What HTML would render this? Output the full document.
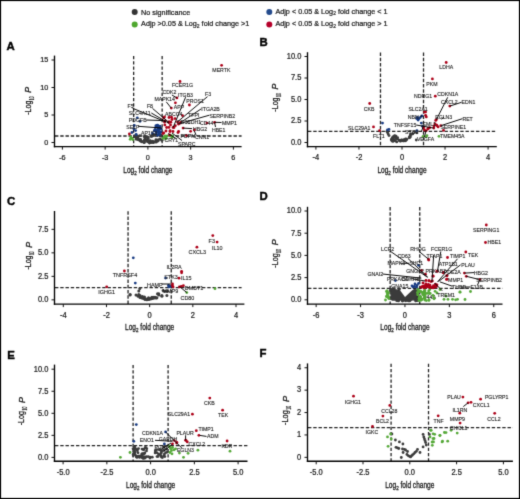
<!DOCTYPE html>
<html><head><meta charset="utf-8"><style>
html,body{margin:0;padding:0;background:#fff;}
body{width:520px;height:499px;overflow:hidden;}
svg{display:block;font-family:"Liberation Sans",sans-serif;will-change:transform;}
</style></head><body>
<svg width="520" height="499" viewBox="0 0 520 499">
<defs><filter id="sm" x="0" y="0" width="520" height="499" filterUnits="userSpaceOnUse" color-interpolation-filters="sRGB"><feConvolveMatrix order="3" kernelMatrix="1 6 1 6 36 6 1 6 1" edgeMode="duplicate"/></filter></defs>
<g filter="url(#sm)">
<rect x="0" y="0" width="520" height="499" fill="#fff"/>
<rect x="0.5" y="0.5" width="519" height="498" fill="none" stroke="#000" stroke-width="1.2"/>
<circle cx="134.7" cy="12" r="3.0" fill="#333333"/>
<text transform="translate(141.1 15) scale(1 1.08)" font-size="7.25" fill="#1a1a1a" stroke="#1a1a1a" stroke-width="0.22">No significance</text>
<circle cx="134.7" cy="24.5" r="3.0" fill="#4ea72e"/>
<text transform="translate(141.1 25.95) scale(1 1.08)" font-size="7.25" fill="#1a1a1a" stroke="#1a1a1a" stroke-width="0.22">Adjp &gt;0.05 &amp; Log<tspan font-size="5" dy="1.5">2</tspan><tspan dy="-1.5"> fold change &gt;1</tspan></text>
<circle cx="269.3" cy="12.1" r="3.0" fill="#234a8c"/>
<text transform="translate(275.4 13.8) scale(1 1.08)" font-size="7.25" fill="#1a1a1a" stroke="#1a1a1a" stroke-width="0.22">Adjp &lt; 0.05 &amp; Log<tspan font-size="5" dy="1.5">2</tspan><tspan dy="-1.5"> fold change &lt; 1</tspan></text>
<circle cx="269.3" cy="24.5" r="3.0" fill="#b5002a"/>
<text transform="translate(275.4 25.95) scale(1 1.08)" font-size="7.25" fill="#1a1a1a" stroke="#1a1a1a" stroke-width="0.22">Adjp &lt; 0.05 &amp; Log<tspan font-size="5" dy="1.5">2</tspan><tspan dy="-1.5"> fold change &gt; 1</tspan></text>
<line x1="55" y1="136" x2="241.6" y2="136" stroke="#222" stroke-width="1.3" stroke-dasharray="3.4 1.85" stroke-linecap="butt"/>
<line x1="133.65" y1="55.9" x2="133.65" y2="146.6" stroke="#222" stroke-width="1.3" stroke-dasharray="3.4 1.85" stroke-linecap="butt"/>
<line x1="162.15" y1="55.9" x2="162.15" y2="146.6" stroke="#222" stroke-width="1.3" stroke-dasharray="3.4 1.85" stroke-linecap="butt"/>
<line x1="54.5" y1="55.6" x2="54.5" y2="147.3" stroke="#000" stroke-width="1.35" stroke-linecap="butt"/>
<line x1="53.85" y1="146.6" x2="241.6" y2="146.6" stroke="#000" stroke-width="1.45" stroke-linecap="butt"/>
<line x1="51.5" y1="142.5" x2="54.5" y2="142.5" stroke="#111" stroke-width="1.0" stroke-linecap="butt"/>
<text transform="translate(48.3 144.8) scale(1 1.05)" font-size="7.3" text-anchor="end" fill="#1a1a1a" stroke="#1a1a1a" stroke-width="0.22">0</text>
<line x1="51.5" y1="115" x2="54.5" y2="115" stroke="#111" stroke-width="1.0" stroke-linecap="butt"/>
<text transform="translate(48.3 117.3) scale(1 1.05)" font-size="7.3" text-anchor="end" fill="#1a1a1a" stroke="#1a1a1a" stroke-width="0.22">5</text>
<line x1="51.5" y1="87.5" x2="54.5" y2="87.5" stroke="#111" stroke-width="1.0" stroke-linecap="butt"/>
<text transform="translate(48.3 89.8) scale(1 1.05)" font-size="7.3" text-anchor="end" fill="#1a1a1a" stroke="#1a1a1a" stroke-width="0.22">10</text>
<line x1="51.5" y1="60" x2="54.5" y2="60" stroke="#111" stroke-width="1.0" stroke-linecap="butt"/>
<text transform="translate(48.3 62.3) scale(1 1.05)" font-size="7.3" text-anchor="end" fill="#1a1a1a" stroke="#1a1a1a" stroke-width="0.22">15</text>
<line x1="62.4" y1="146.6" x2="62.4" y2="149.6" stroke="#111" stroke-width="1.0" stroke-linecap="butt"/>
<text transform="translate(62.4 160.1) scale(1 1.05)" font-size="7.3" text-anchor="middle" fill="#1a1a1a" stroke="#1a1a1a" stroke-width="0.22">-6</text>
<line x1="105.15" y1="146.6" x2="105.15" y2="149.6" stroke="#111" stroke-width="1.0" stroke-linecap="butt"/>
<text transform="translate(105.15 160.1) scale(1 1.05)" font-size="7.3" text-anchor="middle" fill="#1a1a1a" stroke="#1a1a1a" stroke-width="0.22">-3</text>
<line x1="147.9" y1="146.6" x2="147.9" y2="149.6" stroke="#111" stroke-width="1.0" stroke-linecap="butt"/>
<text transform="translate(147.9 160.1) scale(1 1.05)" font-size="7.3" text-anchor="middle" fill="#1a1a1a" stroke="#1a1a1a" stroke-width="0.22">0</text>
<line x1="190.65" y1="146.6" x2="190.65" y2="149.6" stroke="#111" stroke-width="1.0" stroke-linecap="butt"/>
<text transform="translate(190.65 160.1) scale(1 1.05)" font-size="7.3" text-anchor="middle" fill="#1a1a1a" stroke="#1a1a1a" stroke-width="0.22">3</text>
<line x1="233.4" y1="146.6" x2="233.4" y2="149.6" stroke="#111" stroke-width="1.0" stroke-linecap="butt"/>
<text transform="translate(233.4 160.1) scale(1 1.05)" font-size="7.3" text-anchor="middle" fill="#1a1a1a" stroke="#1a1a1a" stroke-width="0.22">6</text>
<text x="123.3" y="172.9" font-size="9" textLength="49.2" lengthAdjust="spacingAndGlyphs" fill="#1a1a1a" stroke="#1a1a1a" stroke-width="0.3">Log<tspan font-size="6.2" dy="2">2</tspan><tspan dy="-2"> fold change</tspan></text>
<text transform="translate(30.6 114.85) rotate(-90)" font-size="9.4" textLength="14.23" lengthAdjust="spacingAndGlyphs" fill="#1a1a1a" stroke="#1a1a1a" stroke-width="0.3">-Log</text>
<text transform="translate(33.5 100.22) rotate(-90)" font-size="6.3" textLength="3.81" lengthAdjust="spacingAndGlyphs" fill="#1a1a1a" stroke="#1a1a1a" stroke-width="0.2">10</text>
<text transform="translate(31.2 92.71) rotate(-90)" font-size="9.6" font-style="italic" textLength="5.91" lengthAdjust="spacingAndGlyphs" fill="#1a1a1a" stroke="#1a1a1a" stroke-width="0.3">P</text>
<text transform="translate(6.6 49.6) scale(1 1.02)" font-size="11.4" font-weight="bold" fill="#000" stroke="#000" stroke-width="0.4">A</text>
<line x1="308" y1="131.4" x2="496.8" y2="131.4" stroke="#222" stroke-width="1.3" stroke-dasharray="3.4 1.85" stroke-linecap="butt"/>
<line x1="380.48" y1="52.5" x2="380.48" y2="146.6" stroke="#222" stroke-width="1.3" stroke-dasharray="3.4 1.85" stroke-linecap="butt"/>
<line x1="423.52" y1="52.5" x2="423.52" y2="146.6" stroke="#222" stroke-width="1.3" stroke-dasharray="3.4 1.85" stroke-linecap="butt"/>
<line x1="307.5" y1="52.2" x2="307.5" y2="147.3" stroke="#000" stroke-width="1.35" stroke-linecap="butt"/>
<line x1="306.85" y1="146.6" x2="496.8" y2="146.6" stroke="#000" stroke-width="1.45" stroke-linecap="butt"/>
<line x1="304.5" y1="142.5" x2="307.5" y2="142.5" stroke="#111" stroke-width="1.0" stroke-linecap="butt"/>
<text transform="translate(301.3 144.8) scale(1 1.1)" font-size="7.5" text-anchor="end" fill="#1a1a1a" stroke="#1a1a1a" stroke-width="0.22">0.0</text>
<line x1="304.5" y1="121" x2="307.5" y2="121" stroke="#111" stroke-width="1.0" stroke-linecap="butt"/>
<text transform="translate(301.3 123.3) scale(1 1.1)" font-size="7.5" text-anchor="end" fill="#1a1a1a" stroke="#1a1a1a" stroke-width="0.22">2.5</text>
<line x1="304.5" y1="99.5" x2="307.5" y2="99.5" stroke="#111" stroke-width="1.0" stroke-linecap="butt"/>
<text transform="translate(301.3 101.8) scale(1 1.1)" font-size="7.5" text-anchor="end" fill="#1a1a1a" stroke="#1a1a1a" stroke-width="0.22">5.0</text>
<line x1="304.5" y1="78" x2="307.5" y2="78" stroke="#111" stroke-width="1.0" stroke-linecap="butt"/>
<text transform="translate(301.3 80.3) scale(1 1.1)" font-size="7.5" text-anchor="end" fill="#1a1a1a" stroke="#1a1a1a" stroke-width="0.22">7.5</text>
<line x1="304.5" y1="56.5" x2="307.5" y2="56.5" stroke="#111" stroke-width="1.0" stroke-linecap="butt"/>
<text transform="translate(301.3 58.8) scale(1 1.1)" font-size="7.5" text-anchor="end" fill="#1a1a1a" stroke="#1a1a1a" stroke-width="0.22">10.0</text>
<line x1="315.92" y1="146.6" x2="315.92" y2="149.6" stroke="#111" stroke-width="1.0" stroke-linecap="butt"/>
<text transform="translate(315.92 160.1) scale(1 1.1)" font-size="7.5" text-anchor="middle" fill="#1a1a1a" stroke="#1a1a1a" stroke-width="0.22">-4</text>
<line x1="358.96" y1="146.6" x2="358.96" y2="149.6" stroke="#111" stroke-width="1.0" stroke-linecap="butt"/>
<text transform="translate(358.96 160.1) scale(1 1.1)" font-size="7.5" text-anchor="middle" fill="#1a1a1a" stroke="#1a1a1a" stroke-width="0.22">-2</text>
<line x1="402" y1="146.6" x2="402" y2="149.6" stroke="#111" stroke-width="1.0" stroke-linecap="butt"/>
<text transform="translate(402 160.1) scale(1 1.1)" font-size="7.5" text-anchor="middle" fill="#1a1a1a" stroke="#1a1a1a" stroke-width="0.22">0</text>
<line x1="445.04" y1="146.6" x2="445.04" y2="149.6" stroke="#111" stroke-width="1.0" stroke-linecap="butt"/>
<text transform="translate(445.04 160.1) scale(1 1.1)" font-size="7.5" text-anchor="middle" fill="#1a1a1a" stroke="#1a1a1a" stroke-width="0.22">2</text>
<line x1="488.08" y1="146.6" x2="488.08" y2="149.6" stroke="#111" stroke-width="1.0" stroke-linecap="butt"/>
<text transform="translate(488.08 160.1) scale(1 1.1)" font-size="7.5" text-anchor="middle" fill="#1a1a1a" stroke="#1a1a1a" stroke-width="0.22">4</text>
<text x="377.4" y="172.9" font-size="9" textLength="49.2" lengthAdjust="spacingAndGlyphs" fill="#1a1a1a" stroke="#1a1a1a" stroke-width="0.3">Log<tspan font-size="6.2" dy="2">2</tspan><tspan dy="-2"> fold change</tspan></text>
<text transform="translate(277.6 111.65) rotate(-90)" font-size="9.4" textLength="14.23" lengthAdjust="spacingAndGlyphs" fill="#1a1a1a" stroke="#1a1a1a" stroke-width="0.3">-Log</text>
<text transform="translate(280.5 97.02) rotate(-90)" font-size="6.3" textLength="3.81" lengthAdjust="spacingAndGlyphs" fill="#1a1a1a" stroke="#1a1a1a" stroke-width="0.2">10</text>
<text transform="translate(278.2 89.51) rotate(-90)" font-size="9.6" font-style="italic" textLength="5.91" lengthAdjust="spacingAndGlyphs" fill="#1a1a1a" stroke="#1a1a1a" stroke-width="0.3">P</text>
<text transform="translate(259.4 46.3) scale(1 1.02)" font-size="11.4" font-weight="bold" fill="#000" stroke="#000" stroke-width="0.4">B</text>
<line x1="55" y1="287.7" x2="241.6" y2="287.7" stroke="#222" stroke-width="1.3" stroke-dasharray="3.4 1.85" stroke-linecap="butt"/>
<line x1="128.06" y1="211.3" x2="128.06" y2="304.1" stroke="#222" stroke-width="1.3" stroke-dasharray="3.4 1.85" stroke-linecap="butt"/>
<line x1="171.24" y1="211.3" x2="171.24" y2="304.1" stroke="#222" stroke-width="1.3" stroke-dasharray="3.4 1.85" stroke-linecap="butt"/>
<line x1="54.5" y1="211" x2="54.5" y2="304.8" stroke="#000" stroke-width="1.35" stroke-linecap="butt"/>
<line x1="53.85" y1="304.1" x2="244.4" y2="304.1" stroke="#000" stroke-width="1.45" stroke-linecap="butt"/>
<line x1="51.5" y1="299.85" x2="54.5" y2="299.85" stroke="#111" stroke-width="1.0" stroke-linecap="butt"/>
<text transform="translate(48.3 302.15) scale(1 1.1)" font-size="7.5" text-anchor="end" fill="#1a1a1a" stroke="#1a1a1a" stroke-width="0.22">0.0</text>
<line x1="51.5" y1="276.35" x2="54.5" y2="276.35" stroke="#111" stroke-width="1.0" stroke-linecap="butt"/>
<text transform="translate(48.3 278.65) scale(1 1.1)" font-size="7.5" text-anchor="end" fill="#1a1a1a" stroke="#1a1a1a" stroke-width="0.22">2.5</text>
<line x1="51.5" y1="252.85" x2="54.5" y2="252.85" stroke="#111" stroke-width="1.0" stroke-linecap="butt"/>
<text transform="translate(48.3 255.15) scale(1 1.1)" font-size="7.5" text-anchor="end" fill="#1a1a1a" stroke="#1a1a1a" stroke-width="0.22">5.0</text>
<line x1="51.5" y1="229.35" x2="54.5" y2="229.35" stroke="#111" stroke-width="1.0" stroke-linecap="butt"/>
<text transform="translate(48.3 231.65) scale(1 1.1)" font-size="7.5" text-anchor="end" fill="#1a1a1a" stroke="#1a1a1a" stroke-width="0.22">7.5</text>
<line x1="63.29" y1="304.1" x2="63.29" y2="307.1" stroke="#111" stroke-width="1.0" stroke-linecap="butt"/>
<text transform="translate(63.29 317.6) scale(1 1.1)" font-size="7.5" text-anchor="middle" fill="#1a1a1a" stroke="#1a1a1a" stroke-width="0.22">-4</text>
<line x1="106.47" y1="304.1" x2="106.47" y2="307.1" stroke="#111" stroke-width="1.0" stroke-linecap="butt"/>
<text transform="translate(106.47 317.6) scale(1 1.1)" font-size="7.5" text-anchor="middle" fill="#1a1a1a" stroke="#1a1a1a" stroke-width="0.22">-2</text>
<line x1="149.65" y1="304.1" x2="149.65" y2="307.1" stroke="#111" stroke-width="1.0" stroke-linecap="butt"/>
<text transform="translate(149.65 317.6) scale(1 1.1)" font-size="7.5" text-anchor="middle" fill="#1a1a1a" stroke="#1a1a1a" stroke-width="0.22">0</text>
<line x1="192.83" y1="304.1" x2="192.83" y2="307.1" stroke="#111" stroke-width="1.0" stroke-linecap="butt"/>
<text transform="translate(192.83 317.6) scale(1 1.1)" font-size="7.5" text-anchor="middle" fill="#1a1a1a" stroke="#1a1a1a" stroke-width="0.22">2</text>
<line x1="236.01" y1="304.1" x2="236.01" y2="307.1" stroke="#111" stroke-width="1.0" stroke-linecap="butt"/>
<text transform="translate(236.01 317.6) scale(1 1.1)" font-size="7.5" text-anchor="middle" fill="#1a1a1a" stroke="#1a1a1a" stroke-width="0.22">4</text>
<text x="125.05" y="330.4" font-size="9" textLength="49.2" lengthAdjust="spacingAndGlyphs" fill="#1a1a1a" stroke="#1a1a1a" stroke-width="0.3">Log<tspan font-size="6.2" dy="2">2</tspan><tspan dy="-2"> fold change</tspan></text>
<text transform="translate(31 269.6) rotate(-90)" font-size="9.4" textLength="14.1" lengthAdjust="spacingAndGlyphs" fill="#1a1a1a" stroke="#1a1a1a" stroke-width="0.3">-Log</text>
<text transform="translate(33.9 255.1) rotate(-90)" font-size="6.3" textLength="3.77" lengthAdjust="spacingAndGlyphs" fill="#1a1a1a" stroke="#1a1a1a" stroke-width="0.2">10</text>
<text transform="translate(31.6 247.66) rotate(-90)" font-size="9.6" font-style="italic" textLength="5.86" lengthAdjust="spacingAndGlyphs" fill="#1a1a1a" stroke="#1a1a1a" stroke-width="0.3">P</text>
<text transform="translate(6.9 204.5) scale(1 1.02)" font-size="11.4" font-weight="bold" fill="#000" stroke="#000" stroke-width="0.4">C</text>
<line x1="308" y1="288.3" x2="502.5" y2="288.3" stroke="#222" stroke-width="1.3" stroke-dasharray="3.4 1.85" stroke-linecap="butt"/>
<line x1="390.15" y1="207.1" x2="390.15" y2="304.1" stroke="#222" stroke-width="1.3" stroke-dasharray="3.4 1.85" stroke-linecap="butt"/>
<line x1="419.75" y1="207.1" x2="419.75" y2="304.1" stroke="#222" stroke-width="1.3" stroke-dasharray="3.4 1.85" stroke-linecap="butt"/>
<line x1="307.5" y1="206.8" x2="307.5" y2="304.8" stroke="#000" stroke-width="1.35" stroke-linecap="butt"/>
<line x1="306.85" y1="304.1" x2="502.5" y2="304.1" stroke="#000" stroke-width="1.45" stroke-linecap="butt"/>
<line x1="304.5" y1="299.8" x2="307.5" y2="299.8" stroke="#111" stroke-width="1.0" stroke-linecap="butt"/>
<text transform="translate(301.3 302.1) scale(1 1.1)" font-size="7.5" text-anchor="end" fill="#1a1a1a" stroke="#1a1a1a" stroke-width="0.22">0.0</text>
<line x1="304.5" y1="277.6" x2="307.5" y2="277.6" stroke="#111" stroke-width="1.0" stroke-linecap="butt"/>
<text transform="translate(301.3 279.9) scale(1 1.1)" font-size="7.5" text-anchor="end" fill="#1a1a1a" stroke="#1a1a1a" stroke-width="0.22">2.5</text>
<line x1="304.5" y1="255.4" x2="307.5" y2="255.4" stroke="#111" stroke-width="1.0" stroke-linecap="butt"/>
<text transform="translate(301.3 257.7) scale(1 1.1)" font-size="7.5" text-anchor="end" fill="#1a1a1a" stroke="#1a1a1a" stroke-width="0.22">5.0</text>
<line x1="304.5" y1="233.2" x2="307.5" y2="233.2" stroke="#111" stroke-width="1.0" stroke-linecap="butt"/>
<text transform="translate(301.3 235.5) scale(1 1.1)" font-size="7.5" text-anchor="end" fill="#1a1a1a" stroke="#1a1a1a" stroke-width="0.22">7.5</text>
<line x1="304.5" y1="211" x2="307.5" y2="211" stroke="#111" stroke-width="1.0" stroke-linecap="butt"/>
<text transform="translate(301.3 213.3) scale(1 1.1)" font-size="7.5" text-anchor="end" fill="#1a1a1a" stroke="#1a1a1a" stroke-width="0.22">10.0</text>
<line x1="316.15" y1="304.1" x2="316.15" y2="307.1" stroke="#111" stroke-width="1.0" stroke-linecap="butt"/>
<text transform="translate(316.15 317.6) scale(1 1.1)" font-size="7.5" text-anchor="middle" fill="#1a1a1a" stroke="#1a1a1a" stroke-width="0.22">-6</text>
<line x1="360.55" y1="304.1" x2="360.55" y2="307.1" stroke="#111" stroke-width="1.0" stroke-linecap="butt"/>
<text transform="translate(360.55 317.6) scale(1 1.1)" font-size="7.5" text-anchor="middle" fill="#1a1a1a" stroke="#1a1a1a" stroke-width="0.22">-3</text>
<line x1="404.95" y1="304.1" x2="404.95" y2="307.1" stroke="#111" stroke-width="1.0" stroke-linecap="butt"/>
<text transform="translate(404.95 317.6) scale(1 1.1)" font-size="7.5" text-anchor="middle" fill="#1a1a1a" stroke="#1a1a1a" stroke-width="0.22">0</text>
<line x1="449.35" y1="304.1" x2="449.35" y2="307.1" stroke="#111" stroke-width="1.0" stroke-linecap="butt"/>
<text transform="translate(449.35 317.6) scale(1 1.1)" font-size="7.5" text-anchor="middle" fill="#1a1a1a" stroke="#1a1a1a" stroke-width="0.22">3</text>
<line x1="493.75" y1="304.1" x2="493.75" y2="307.1" stroke="#111" stroke-width="1.0" stroke-linecap="butt"/>
<text transform="translate(493.75 317.6) scale(1 1.1)" font-size="7.5" text-anchor="middle" fill="#1a1a1a" stroke="#1a1a1a" stroke-width="0.22">6</text>
<text x="380.35" y="330.4" font-size="9" textLength="49.2" lengthAdjust="spacingAndGlyphs" fill="#1a1a1a" stroke="#1a1a1a" stroke-width="0.3">Log<tspan font-size="6.2" dy="2">2</tspan><tspan dy="-2"> fold change</tspan></text>
<text transform="translate(277.6 267.7) rotate(-90)" font-size="9.4" textLength="14.35" lengthAdjust="spacingAndGlyphs" fill="#1a1a1a" stroke="#1a1a1a" stroke-width="0.3">-Log</text>
<text transform="translate(280.5 252.94) rotate(-90)" font-size="6.3" textLength="3.84" lengthAdjust="spacingAndGlyphs" fill="#1a1a1a" stroke="#1a1a1a" stroke-width="0.2">10</text>
<text transform="translate(278.2 245.36) rotate(-90)" font-size="9.6" font-style="italic" textLength="5.96" lengthAdjust="spacingAndGlyphs" fill="#1a1a1a" stroke="#1a1a1a" stroke-width="0.3">P</text>
<text transform="translate(259.4 200.3) scale(1 1.02)" font-size="11.4" font-weight="bold" fill="#000" stroke="#000" stroke-width="0.4">D</text>
<line x1="55" y1="445.7" x2="247.5" y2="445.7" stroke="#222" stroke-width="1.3" stroke-dasharray="3.4 1.85" stroke-linecap="butt"/>
<line x1="133.1" y1="364.9" x2="133.1" y2="461.3" stroke="#222" stroke-width="1.3" stroke-dasharray="3.4 1.85" stroke-linecap="butt"/>
<line x1="168.1" y1="364.9" x2="168.1" y2="461.3" stroke="#222" stroke-width="1.3" stroke-dasharray="3.4 1.85" stroke-linecap="butt"/>
<line x1="54.5" y1="364.6" x2="54.5" y2="462" stroke="#000" stroke-width="1.35" stroke-linecap="butt"/>
<line x1="53.85" y1="461.3" x2="247.5" y2="461.3" stroke="#000" stroke-width="1.45" stroke-linecap="butt"/>
<line x1="51.5" y1="457.4" x2="54.5" y2="457.4" stroke="#111" stroke-width="1.0" stroke-linecap="butt"/>
<text transform="translate(48.3 459.7) scale(1 1.1)" font-size="7.5" text-anchor="end" fill="#1a1a1a" stroke="#1a1a1a" stroke-width="0.22">0.0</text>
<line x1="51.5" y1="435.35" x2="54.5" y2="435.35" stroke="#111" stroke-width="1.0" stroke-linecap="butt"/>
<text transform="translate(48.3 437.65) scale(1 1.1)" font-size="7.5" text-anchor="end" fill="#1a1a1a" stroke="#1a1a1a" stroke-width="0.22">2.5</text>
<line x1="51.5" y1="413.3" x2="54.5" y2="413.3" stroke="#111" stroke-width="1.0" stroke-linecap="butt"/>
<text transform="translate(48.3 415.6) scale(1 1.1)" font-size="7.5" text-anchor="end" fill="#1a1a1a" stroke="#1a1a1a" stroke-width="0.22">5.0</text>
<line x1="51.5" y1="391.25" x2="54.5" y2="391.25" stroke="#111" stroke-width="1.0" stroke-linecap="butt"/>
<text transform="translate(48.3 393.55) scale(1 1.1)" font-size="7.5" text-anchor="end" fill="#1a1a1a" stroke="#1a1a1a" stroke-width="0.22">7.5</text>
<line x1="51.5" y1="369.2" x2="54.5" y2="369.2" stroke="#111" stroke-width="1.0" stroke-linecap="butt"/>
<text transform="translate(48.3 371.5) scale(1 1.1)" font-size="7.5" text-anchor="end" fill="#1a1a1a" stroke="#1a1a1a" stroke-width="0.22">10.0</text>
<line x1="63.1" y1="461.3" x2="63.1" y2="464.3" stroke="#111" stroke-width="1.0" stroke-linecap="butt"/>
<text transform="translate(63.1 474.8) scale(1 1.1)" font-size="7.5" text-anchor="middle" fill="#1a1a1a" stroke="#1a1a1a" stroke-width="0.22">-5.0</text>
<line x1="106.85" y1="461.3" x2="106.85" y2="464.3" stroke="#111" stroke-width="1.0" stroke-linecap="butt"/>
<text transform="translate(106.85 474.8) scale(1 1.1)" font-size="7.5" text-anchor="middle" fill="#1a1a1a" stroke="#1a1a1a" stroke-width="0.22">-2.5</text>
<line x1="150.6" y1="461.3" x2="150.6" y2="464.3" stroke="#111" stroke-width="1.0" stroke-linecap="butt"/>
<text transform="translate(150.6 474.8) scale(1 1.1)" font-size="7.5" text-anchor="middle" fill="#1a1a1a" stroke="#1a1a1a" stroke-width="0.22">0.0</text>
<line x1="194.35" y1="461.3" x2="194.35" y2="464.3" stroke="#111" stroke-width="1.0" stroke-linecap="butt"/>
<text transform="translate(194.35 474.8) scale(1 1.1)" font-size="7.5" text-anchor="middle" fill="#1a1a1a" stroke="#1a1a1a" stroke-width="0.22">2.5</text>
<line x1="238.1" y1="461.3" x2="238.1" y2="464.3" stroke="#111" stroke-width="1.0" stroke-linecap="butt"/>
<text transform="translate(238.1 474.8) scale(1 1.1)" font-size="7.5" text-anchor="middle" fill="#1a1a1a" stroke="#1a1a1a" stroke-width="0.22">5.0</text>
<text x="126" y="487.6" font-size="9" textLength="49.2" lengthAdjust="spacingAndGlyphs" fill="#1a1a1a" stroke="#1a1a1a" stroke-width="0.3">Log<tspan font-size="6.2" dy="2">2</tspan><tspan dy="-2"> fold change</tspan></text>
<text transform="translate(24 425.3) rotate(-90)" font-size="9.4" textLength="14.35" lengthAdjust="spacingAndGlyphs" fill="#1a1a1a" stroke="#1a1a1a" stroke-width="0.3">-Log</text>
<text transform="translate(26.9 410.54) rotate(-90)" font-size="6.3" textLength="3.84" lengthAdjust="spacingAndGlyphs" fill="#1a1a1a" stroke="#1a1a1a" stroke-width="0.2">10</text>
<text transform="translate(24.6 402.96) rotate(-90)" font-size="9.6" font-style="italic" textLength="5.96" lengthAdjust="spacingAndGlyphs" fill="#1a1a1a" stroke="#1a1a1a" stroke-width="0.3">P</text>
<text transform="translate(7.3 358.6) scale(1 1.02)" font-size="11.4" font-weight="bold" fill="#000" stroke="#000" stroke-width="0.4">E</text>
<line x1="308" y1="427.7" x2="512.9" y2="427.7" stroke="#222" stroke-width="1.3" stroke-dasharray="3.4 1.85" stroke-linecap="butt"/>
<line x1="391.08" y1="363.7" x2="391.08" y2="461.3" stroke="#222" stroke-width="1.3" stroke-dasharray="3.4 1.85" stroke-linecap="butt"/>
<line x1="428.52" y1="363.7" x2="428.52" y2="461.3" stroke="#222" stroke-width="1.3" stroke-dasharray="3.4 1.85" stroke-linecap="butt"/>
<line x1="307.5" y1="363.4" x2="307.5" y2="462" stroke="#000" stroke-width="1.35" stroke-linecap="butt"/>
<line x1="306.85" y1="461.3" x2="512.9" y2="461.3" stroke="#000" stroke-width="1.45" stroke-linecap="butt"/>
<line x1="304.5" y1="457.35" x2="307.5" y2="457.35" stroke="#111" stroke-width="1.0" stroke-linecap="butt"/>
<text transform="translate(301.3 459.65) scale(1 1.1)" font-size="7.5" text-anchor="end" fill="#1a1a1a" stroke="#1a1a1a" stroke-width="0.22">0</text>
<line x1="304.5" y1="434.95" x2="307.5" y2="434.95" stroke="#111" stroke-width="1.0" stroke-linecap="butt"/>
<text transform="translate(301.3 437.25) scale(1 1.1)" font-size="7.5" text-anchor="end" fill="#1a1a1a" stroke="#1a1a1a" stroke-width="0.22">1</text>
<line x1="304.5" y1="412.55" x2="307.5" y2="412.55" stroke="#111" stroke-width="1.0" stroke-linecap="butt"/>
<text transform="translate(301.3 414.85) scale(1 1.1)" font-size="7.5" text-anchor="end" fill="#1a1a1a" stroke="#1a1a1a" stroke-width="0.22">2</text>
<line x1="304.5" y1="390.15" x2="307.5" y2="390.15" stroke="#111" stroke-width="1.0" stroke-linecap="butt"/>
<text transform="translate(301.3 392.45) scale(1 1.1)" font-size="7.5" text-anchor="end" fill="#1a1a1a" stroke="#1a1a1a" stroke-width="0.22">3</text>
<line x1="304.5" y1="367.75" x2="307.5" y2="367.75" stroke="#111" stroke-width="1.0" stroke-linecap="butt"/>
<text transform="translate(301.3 370.05) scale(1 1.1)" font-size="7.5" text-anchor="end" fill="#1a1a1a" stroke="#1a1a1a" stroke-width="0.22">4</text>
<line x1="316.2" y1="461.3" x2="316.2" y2="464.3" stroke="#111" stroke-width="1.0" stroke-linecap="butt"/>
<text transform="translate(316.2 474.8) scale(1 1.1)" font-size="7.5" text-anchor="middle" fill="#1a1a1a" stroke="#1a1a1a" stroke-width="0.22">-5.0</text>
<line x1="363" y1="461.3" x2="363" y2="464.3" stroke="#111" stroke-width="1.0" stroke-linecap="butt"/>
<text transform="translate(363 474.8) scale(1 1.1)" font-size="7.5" text-anchor="middle" fill="#1a1a1a" stroke="#1a1a1a" stroke-width="0.22">-2.5</text>
<line x1="409.8" y1="461.3" x2="409.8" y2="464.3" stroke="#111" stroke-width="1.0" stroke-linecap="butt"/>
<text transform="translate(409.8 474.8) scale(1 1.1)" font-size="7.5" text-anchor="middle" fill="#1a1a1a" stroke="#1a1a1a" stroke-width="0.22">0.0</text>
<line x1="456.6" y1="461.3" x2="456.6" y2="464.3" stroke="#111" stroke-width="1.0" stroke-linecap="butt"/>
<text transform="translate(456.6 474.8) scale(1 1.1)" font-size="7.5" text-anchor="middle" fill="#1a1a1a" stroke="#1a1a1a" stroke-width="0.22">2.5</text>
<line x1="503.4" y1="461.3" x2="503.4" y2="464.3" stroke="#111" stroke-width="1.0" stroke-linecap="butt"/>
<text transform="translate(503.4 474.8) scale(1 1.1)" font-size="7.5" text-anchor="middle" fill="#1a1a1a" stroke="#1a1a1a" stroke-width="0.22">5.0</text>
<text x="385.2" y="487.6" font-size="9" textLength="49.2" lengthAdjust="spacingAndGlyphs" fill="#1a1a1a" stroke="#1a1a1a" stroke-width="0.3">Log<tspan font-size="6.2" dy="2">2</tspan><tspan dy="-2"> fold change</tspan></text>
<text transform="translate(288.2 424.9) rotate(-90)" font-size="9.4" textLength="14.66" lengthAdjust="spacingAndGlyphs" fill="#1a1a1a" stroke="#1a1a1a" stroke-width="0.3">-Log</text>
<text transform="translate(291.1 409.83) rotate(-90)" font-size="6.3" textLength="3.92" lengthAdjust="spacingAndGlyphs" fill="#1a1a1a" stroke="#1a1a1a" stroke-width="0.2">10</text>
<text transform="translate(288.8 402.09) rotate(-90)" font-size="9.6" font-style="italic" textLength="6.09" lengthAdjust="spacingAndGlyphs" fill="#1a1a1a" stroke="#1a1a1a" stroke-width="0.3">P</text>
<text transform="translate(259.4 357.1) scale(1 1.02)" font-size="11.4" font-weight="bold" fill="#000" stroke="#000" stroke-width="0.4">F</text>
<circle cx="141.6" cy="141.47" r="1.4" fill="#3b3b3b"/>
<circle cx="136.28" cy="137.36" r="1.4" fill="#3b3b3b"/>
<circle cx="135.87" cy="136.26" r="1.4" fill="#3b3b3b"/>
<circle cx="144.48" cy="140.42" r="1.4" fill="#3b3b3b"/>
<circle cx="146.18" cy="140.49" r="1.4" fill="#3b3b3b"/>
<circle cx="140.23" cy="141.04" r="1.4" fill="#3b3b3b"/>
<circle cx="149.42" cy="143.02" r="1.4" fill="#3b3b3b"/>
<circle cx="136.52" cy="136.73" r="1.4" fill="#3b3b3b"/>
<circle cx="136.86" cy="138.4" r="1.4" fill="#3b3b3b"/>
<circle cx="155.64" cy="141.27" r="1.4" fill="#3b3b3b"/>
<circle cx="151.12" cy="141.78" r="1.4" fill="#3b3b3b"/>
<circle cx="134.82" cy="136.78" r="1.4" fill="#3b3b3b"/>
<circle cx="152.44" cy="141.05" r="1.4" fill="#3b3b3b"/>
<circle cx="149.81" cy="141.27" r="1.4" fill="#3b3b3b"/>
<circle cx="156.39" cy="140.55" r="1.4" fill="#3b3b3b"/>
<circle cx="149.68" cy="142.75" r="1.4" fill="#3b3b3b"/>
<circle cx="153.47" cy="142.65" r="1.4" fill="#3b3b3b"/>
<circle cx="137.04" cy="139.13" r="1.4" fill="#3b3b3b"/>
<circle cx="138.01" cy="137.82" r="1.4" fill="#3b3b3b"/>
<circle cx="152.97" cy="141.76" r="1.4" fill="#3b3b3b"/>
<circle cx="157.61" cy="141.06" r="1.4" fill="#3b3b3b"/>
<circle cx="150.39" cy="141.67" r="1.4" fill="#3b3b3b"/>
<circle cx="158.28" cy="140.78" r="1.4" fill="#3b3b3b"/>
<circle cx="151.03" cy="142.11" r="1.4" fill="#3b3b3b"/>
<circle cx="152.96" cy="142.47" r="1.4" fill="#3b3b3b"/>
<circle cx="141.19" cy="141.04" r="1.4" fill="#3b3b3b"/>
<circle cx="134.93" cy="136.01" r="1.4" fill="#3b3b3b"/>
<circle cx="136.08" cy="139.14" r="1.4" fill="#3b3b3b"/>
<circle cx="136.85" cy="138.37" r="1.4" fill="#3b3b3b"/>
<circle cx="156.9" cy="140.45" r="1.4" fill="#3b3b3b"/>
<circle cx="149.9" cy="142.55" r="1.4" fill="#3b3b3b"/>
<circle cx="157.21" cy="140.43" r="1.4" fill="#3b3b3b"/>
<circle cx="144.46" cy="142.52" r="1.4" fill="#3b3b3b"/>
<circle cx="137.17" cy="138.31" r="1.4" fill="#3b3b3b"/>
<circle cx="140.12" cy="140.22" r="1.4" fill="#3b3b3b"/>
<circle cx="139.63" cy="140.13" r="1.4" fill="#3b3b3b"/>
<circle cx="143.93" cy="142.53" r="1.4" fill="#3b3b3b"/>
<circle cx="152.96" cy="141.81" r="1.4" fill="#3b3b3b"/>
<circle cx="151.35" cy="142.59" r="1.4" fill="#3b3b3b"/>
<circle cx="156.44" cy="142.03" r="1.4" fill="#3b3b3b"/>
<circle cx="144.15" cy="140.37" r="1.4" fill="#3b3b3b"/>
<circle cx="150.18" cy="140.54" r="1.4" fill="#3b3b3b"/>
<circle cx="138.64" cy="139.28" r="1.4" fill="#3b3b3b"/>
<circle cx="134.42" cy="136.47" r="1.4" fill="#3b3b3b"/>
<circle cx="136.51" cy="136.95" r="1.4" fill="#3b3b3b"/>
<circle cx="158.36" cy="139.65" r="1.4" fill="#3b3b3b"/>
<circle cx="140.25" cy="139.87" r="1.4" fill="#3b3b3b"/>
<circle cx="138.27" cy="139.82" r="1.4" fill="#3b3b3b"/>
<circle cx="146.48" cy="140.47" r="1.4" fill="#3b3b3b"/>
<circle cx="136.47" cy="137.59" r="1.4" fill="#3b3b3b"/>
<circle cx="155.94" cy="139.71" r="1.4" fill="#3b3b3b"/>
<circle cx="160.23" cy="139" r="1.4" fill="#3b3b3b"/>
<circle cx="147.49" cy="141.78" r="1.4" fill="#3b3b3b"/>
<circle cx="161.86" cy="140.19" r="1.4" fill="#3b3b3b"/>
<circle cx="140.53" cy="139.46" r="1.4" fill="#3b3b3b"/>
<circle cx="155.32" cy="142" r="1.4" fill="#3b3b3b"/>
<circle cx="141.94" cy="141.95" r="1.4" fill="#3b3b3b"/>
<circle cx="162" cy="140.42" r="1.4" fill="#3b3b3b"/>
<circle cx="157.16" cy="140.32" r="1.4" fill="#3b3b3b"/>
<circle cx="147.62" cy="140.43" r="1.4" fill="#3b3b3b"/>
<circle cx="135.9" cy="135.07" r="1.4" fill="#3b3b3b"/>
<circle cx="145.25" cy="136.98" r="1.4" fill="#3b3b3b"/>
<circle cx="148.23" cy="138.72" r="1.4" fill="#3b3b3b"/>
<circle cx="139.85" cy="135.69" r="1.4" fill="#3b3b3b"/>
<circle cx="137.79" cy="136.14" r="1.4" fill="#3b3b3b"/>
<circle cx="147.49" cy="137.66" r="1.4" fill="#3b3b3b"/>
<circle cx="144.47" cy="136.14" r="1.4" fill="#3b3b3b"/>
<circle cx="144.78" cy="137.55" r="1.4" fill="#3b3b3b"/>
<circle cx="144.98" cy="136.61" r="1.4" fill="#3b3b3b"/>
<circle cx="145.16" cy="137.97" r="1.4" fill="#3b3b3b"/>
<circle cx="147.45" cy="137.72" r="1.4" fill="#3b3b3b"/>
<circle cx="147.82" cy="137.18" r="1.4" fill="#3b3b3b"/>
<circle cx="136.84" cy="136.57" r="1.4" fill="#3b3b3b"/>
<circle cx="144.99" cy="138.08" r="1.4" fill="#3b3b3b"/>
<circle cx="148.08" cy="137.64" r="1.4" fill="#3b3b3b"/>
<circle cx="155.3" cy="134.52" r="1.4" fill="#3b3b3b"/>
<circle cx="160.98" cy="135.09" r="1.4" fill="#3b3b3b"/>
<circle cx="160.14" cy="135.82" r="1.4" fill="#3b3b3b"/>
<circle cx="158.51" cy="134.69" r="1.4" fill="#3b3b3b"/>
<circle cx="152.71" cy="135.9" r="1.4" fill="#3b3b3b"/>
<circle cx="152.69" cy="135.02" r="1.4" fill="#3b3b3b"/>
<circle cx="159.72" cy="135.02" r="1.4" fill="#3b3b3b"/>
<circle cx="157.23" cy="135.3" r="1.4" fill="#3b3b3b"/>
<circle cx="160.1" cy="135.15" r="1.4" fill="#3b3b3b"/>
<circle cx="154.8" cy="135.4" r="1.4" fill="#3b3b3b"/>
<circle cx="151.02" cy="136.43" r="1.4" fill="#3b3b3b"/>
<circle cx="151.84" cy="136.29" r="1.4" fill="#3b3b3b"/>
<circle cx="158.21" cy="128.39" r="1.4" fill="#173a82"/>
<circle cx="157.93" cy="130.78" r="1.4" fill="#173a82"/>
<circle cx="159.85" cy="126.1" r="1.4" fill="#173a82"/>
<circle cx="158.23" cy="127.58" r="1.4" fill="#173a82"/>
<circle cx="156.19" cy="133.03" r="1.4" fill="#173a82"/>
<circle cx="157.86" cy="130.84" r="1.4" fill="#173a82"/>
<circle cx="159.67" cy="134.49" r="1.4" fill="#173a82"/>
<circle cx="157.39" cy="131.37" r="1.4" fill="#173a82"/>
<circle cx="157.84" cy="130.33" r="1.4" fill="#173a82"/>
<circle cx="159.19" cy="129.7" r="1.4" fill="#173a82"/>
<circle cx="158.04" cy="129.97" r="1.4" fill="#173a82"/>
<circle cx="160.98" cy="132.27" r="1.4" fill="#173a82"/>
<circle cx="156.07" cy="130.82" r="1.4" fill="#173a82"/>
<circle cx="157.38" cy="125.75" r="1.4" fill="#173a82"/>
<circle cx="155.93" cy="125.76" r="1.4" fill="#173a82"/>
<circle cx="159.02" cy="133.15" r="1.4" fill="#173a82"/>
<circle cx="159.36" cy="131.87" r="1.4" fill="#173a82"/>
<circle cx="161.06" cy="129.14" r="1.4" fill="#173a82"/>
<circle cx="157.71" cy="135.29" r="1.4" fill="#173a82"/>
<circle cx="160.19" cy="126.68" r="1.4" fill="#173a82"/>
<circle cx="157.31" cy="130.36" r="1.4" fill="#173a82"/>
<circle cx="156.64" cy="127.04" r="1.4" fill="#173a82"/>
<circle cx="156.49" cy="132.51" r="1.4" fill="#173a82"/>
<circle cx="154.34" cy="130.76" r="1.4" fill="#173a82"/>
<circle cx="157.37" cy="125.19" r="1.4" fill="#173a82"/>
<circle cx="156.59" cy="131.49" r="1.4" fill="#173a82"/>
<circle cx="157.89" cy="125.67" r="1.4" fill="#173a82"/>
<circle cx="159.81" cy="127.81" r="1.4" fill="#173a82"/>
<circle cx="155.13" cy="129.39" r="1.4" fill="#173a82"/>
<circle cx="156.06" cy="126.55" r="1.4" fill="#173a82"/>
<circle cx="137.3" cy="117.8" r="1.4" fill="#173a82"/>
<circle cx="140" cy="121.3" r="1.4" fill="#173a82"/>
<circle cx="135.6" cy="130.6" r="1.4" fill="#173a82"/>
<circle cx="133.8" cy="128.8" r="1.4" fill="#173a82"/>
<circle cx="131.9" cy="132.5" r="1.4" fill="#173a82"/>
<circle cx="134.3" cy="125.5" r="1.4" fill="#173a82"/>
<circle cx="136.2" cy="134.5" r="1.4" fill="#173a82"/>
<circle cx="152.5" cy="133.5" r="1.4" fill="#173a82"/>
<circle cx="130.6" cy="136.8" r="1.4" fill="#55a838"/>
<circle cx="131.8" cy="138.2" r="1.4" fill="#55a838"/>
<circle cx="132.8" cy="139.6" r="1.4" fill="#55a838"/>
<circle cx="130.2" cy="139.3" r="1.4" fill="#55a838"/>
<circle cx="170.2" cy="135.88" r="1.4" fill="#55a838"/>
<circle cx="163.13" cy="138.46" r="1.4" fill="#55a838"/>
<circle cx="167.18" cy="135.81" r="1.4" fill="#55a838"/>
<circle cx="171.32" cy="135.86" r="1.4" fill="#55a838"/>
<circle cx="171.92" cy="135.79" r="1.4" fill="#55a838"/>
<circle cx="171.99" cy="137.45" r="1.4" fill="#55a838"/>
<circle cx="166.23" cy="137.88" r="1.4" fill="#55a838"/>
<circle cx="172.69" cy="136.65" r="1.4" fill="#55a838"/>
<circle cx="163.92" cy="137.77" r="1.4" fill="#55a838"/>
<circle cx="165.12" cy="135.97" r="1.4" fill="#55a838"/>
<circle cx="164.72" cy="136.84" r="1.4" fill="#55a838"/>
<circle cx="165.86" cy="138.77" r="1.4" fill="#55a838"/>
<circle cx="221.6" cy="65.3" r="1.4" fill="#ac0018"/>
<circle cx="180" cy="81.5" r="1.4" fill="#ac0018"/>
<circle cx="176.9" cy="97.9" r="1.4" fill="#ac0018"/>
<circle cx="175.4" cy="102.8" r="1.4" fill="#ac0018"/>
<circle cx="171.3" cy="108.1" r="1.4" fill="#ac0018"/>
<circle cx="189.4" cy="105" r="1.4" fill="#ac0018"/>
<circle cx="182.5" cy="115.6" r="1.4" fill="#ac0018"/>
<circle cx="206.9" cy="123.1" r="1.4" fill="#ac0018"/>
<circle cx="214.6" cy="122.3" r="1.4" fill="#ac0018"/>
<circle cx="183.1" cy="128.1" r="1.4" fill="#ac0018"/>
<circle cx="190.6" cy="131.3" r="1.4" fill="#ac0018"/>
<circle cx="194.4" cy="130" r="1.4" fill="#ac0018"/>
<circle cx="129.4" cy="134" r="1.4" fill="#ac0018"/>
<circle cx="177.5" cy="121.9" r="1.4" fill="#ac0018"/>
<circle cx="173.1" cy="127.5" r="1.4" fill="#ac0018"/>
<circle cx="180.6" cy="122.5" r="1.4" fill="#ac0018"/>
<circle cx="165" cy="121" r="1.4" fill="#ac0018"/>
<circle cx="168.8" cy="121.9" r="1.4" fill="#ac0018"/>
<circle cx="168.8" cy="122.5" r="1.4" fill="#ac0018"/>
<circle cx="178.8" cy="123.8" r="1.4" fill="#ac0018"/>
<circle cx="175" cy="118.6" r="1.4" fill="#ac0018"/>
<circle cx="171.5" cy="117.2" r="1.4" fill="#ac0018"/>
<circle cx="178.6" cy="131.4" r="1.4" fill="#ac0018"/>
<circle cx="186.4" cy="135.5" r="1.4" fill="#ac0018"/>
<circle cx="163.5" cy="117.8" r="1.4" fill="#ac0018"/>
<circle cx="166.64" cy="127.5" r="1.4" fill="#ac0018"/>
<circle cx="164.85" cy="124.9" r="1.4" fill="#ac0018"/>
<circle cx="170.82" cy="122.22" r="1.4" fill="#ac0018"/>
<circle cx="169.6" cy="134.89" r="1.4" fill="#ac0018"/>
<circle cx="163.7" cy="132.92" r="1.4" fill="#ac0018"/>
<circle cx="168.91" cy="127.42" r="1.4" fill="#ac0018"/>
<circle cx="175.35" cy="125.68" r="1.4" fill="#ac0018"/>
<circle cx="170.11" cy="130.69" r="1.4" fill="#ac0018"/>
<circle cx="164.5" cy="117" r="1.4" fill="#ac0018"/>
<circle cx="169" cy="117.5" r="1.4" fill="#ac0018"/>
<circle cx="172" cy="119.5" r="1.4" fill="#ac0018"/>
<circle cx="164.5" cy="122" r="1.4" fill="#ac0018"/>
<circle cx="169.5" cy="122" r="1.4" fill="#ac0018"/>
<circle cx="170.5" cy="125" r="1.4" fill="#ac0018"/>
<circle cx="174" cy="127.5" r="1.4" fill="#ac0018"/>
<circle cx="178.5" cy="124" r="1.4" fill="#ac0018"/>
<circle cx="180.5" cy="123" r="1.4" fill="#ac0018"/>
<circle cx="166" cy="131" r="1.4" fill="#ac0018"/>
<circle cx="170" cy="131.5" r="1.4" fill="#ac0018"/>
<circle cx="173" cy="131.5" r="1.4" fill="#ac0018"/>
<circle cx="163" cy="133.5" r="1.4" fill="#ac0018"/>
<circle cx="178" cy="132.5" r="1.4" fill="#ac0018"/>
<line x1="171.9" y1="95" x2="176.9" y2="97.9" stroke="#000" stroke-width="0.95" stroke-linecap="butt"/>
<line x1="185.6" y1="97.2" x2="173.1" y2="127.5" stroke="#000" stroke-width="0.95" stroke-linecap="butt"/>
<line x1="166.3" y1="101.9" x2="171.3" y2="108.1" stroke="#000" stroke-width="0.95" stroke-linecap="butt"/>
<line x1="207.5" y1="96.6" x2="177.5" y2="121.9" stroke="#000" stroke-width="0.95" stroke-linecap="butt"/>
<line x1="132.5" y1="108.2" x2="166" y2="122" stroke="#000" stroke-width="0.95" stroke-linecap="butt"/>
<line x1="152.5" y1="108.4" x2="169" y2="122.5" stroke="#000" stroke-width="0.95" stroke-linecap="butt"/>
<line x1="201.3" y1="108.8" x2="180.6" y2="122.5" stroke="#000" stroke-width="0.95" stroke-linecap="butt"/>
<line x1="151.3" y1="113" x2="168.5" y2="123" stroke="#000" stroke-width="0.95" stroke-linecap="butt"/>
<line x1="209.4" y1="115.2" x2="178.8" y2="123.8" stroke="#000" stroke-width="0.95" stroke-linecap="butt"/>
<line x1="146.3" y1="120" x2="162.5" y2="120.5" stroke="#000" stroke-width="0.95" stroke-linecap="butt"/>
<line x1="138.1" y1="126.3" x2="162.5" y2="128.1" stroke="#000" stroke-width="0.95" stroke-linecap="butt"/>
<line x1="214.6" y1="122.3" x2="221.5" y2="122.5" stroke="#000" stroke-width="0.95" stroke-linecap="butt"/>
<line x1="214.6" y1="122.5" x2="215.5" y2="127" stroke="#000" stroke-width="0.95" stroke-linecap="butt"/>
<line x1="183.1" y1="128.1" x2="192" y2="128.6" stroke="#000" stroke-width="0.95" stroke-linecap="butt"/>
<line x1="194.4" y1="131" x2="196" y2="135" stroke="#000" stroke-width="0.95" stroke-linecap="butt"/>
<line x1="172" y1="133" x2="182" y2="140.5" stroke="#000" stroke-width="0.95" stroke-linecap="butt"/>
<line x1="168" y1="133.5" x2="176" y2="138.5" stroke="#000" stroke-width="0.95" stroke-linecap="butt"/>
<text transform="translate(212.3 71.5) scale(1 1.08)" font-size="5.2" fill="#222" stroke="#222" stroke-width="0.12">MERTK</text>
<text transform="translate(171.9 86.9) scale(1 1.08)" font-size="5.2" fill="#222" stroke="#222" stroke-width="0.12">FCER1G</text>
<text transform="translate(162.5 94.4) scale(1 1.08)" font-size="5.2" fill="#222" stroke="#222" stroke-width="0.12">CDK2</text>
<text transform="translate(178 96.9) scale(1 1.08)" font-size="5.2" fill="#222" stroke="#222" stroke-width="0.12">ITGB3</text>
<text transform="translate(154.4 101.3) scale(1 1.08)" font-size="5.2" fill="#222" stroke="#222" stroke-width="0.12">MAPK14</text>
<text transform="translate(205 96.3) scale(1 1.08)" font-size="5.2" fill="#222" stroke="#222" stroke-width="0.12">F3</text>
<text transform="translate(186.3 103.1) scale(1 1.08)" font-size="5.2" fill="#222" stroke="#222" stroke-width="0.12">PROS1</text>
<text transform="translate(173.8 109.4) scale(1 1.08)" font-size="5.2" fill="#222" stroke="#222" stroke-width="0.12">APP</text>
<text transform="translate(127.5 107.8) scale(1 1.08)" font-size="5.2" fill="#222" stroke="#222" stroke-width="0.12">F5</text>
<text transform="translate(146.9 107.8) scale(1 1.08)" font-size="5.2" fill="#222" stroke="#222" stroke-width="0.12">F8</text>
<text transform="translate(201.3 110.6) scale(1 1.08)" font-size="5.2" fill="#222" stroke="#222" stroke-width="0.12">ITGA2B</text>
<text transform="translate(128.8 115) scale(1 1.08)" font-size="5.2" fill="#222" stroke="#222" stroke-width="0.12">SLC4A11</text>
<text transform="translate(165 116.3) scale(1 1.08)" font-size="5.2" fill="#222" stroke="#222" stroke-width="0.12">ABCC4</text>
<text transform="translate(188.1 116.9) scale(1 1.08)" font-size="5.2" fill="#222" stroke="#222" stroke-width="0.12">TFPI</text>
<text transform="translate(209.4 117.5) scale(1 1.08)" font-size="5.2" fill="#222" stroke="#222" stroke-width="0.12">SERPINB2</text>
<text transform="translate(128.8 121.9) scale(1 1.08)" font-size="5.2" fill="#222" stroke="#222" stroke-width="0.12">PDGFB</text>
<text transform="translate(177 124.2) scale(1 1.08)" font-size="5.2" fill="#222" stroke="#222" stroke-width="0.12">CD36</text>
<text transform="translate(187 124.2) scale(1 1.08)" font-size="5.2" fill="#222" stroke="#222" stroke-width="0.12">CDH1</text>
<text transform="translate(200 124.6) scale(1 1.08)" font-size="5.2" fill="#222" stroke="#222" stroke-width="0.12">CD44</text>
<text transform="translate(221.9 125) scale(1 1.08)" font-size="5.2" fill="#222" stroke="#222" stroke-width="0.12">MMP1</text>
<text transform="translate(211.9 132.3) scale(1 1.08)" font-size="5.2" fill="#222" stroke="#222" stroke-width="0.12">HBE1</text>
<text transform="translate(193 131) scale(1 1.08)" font-size="5.2" fill="#222" stroke="#222" stroke-width="0.12">HBG2</text>
<text transform="translate(126.3 128.8) scale(1 1.08)" font-size="5.2" fill="#222" stroke="#222" stroke-width="0.12">SELP</text>
<text transform="translate(141 135.2) scale(1 1.08)" font-size="5.2" fill="#222" stroke="#222" stroke-width="0.12">AP1S3</text>
<text transform="translate(180.5 138.1) scale(1 1.08)" font-size="5.2" fill="#222" stroke="#222" stroke-width="0.12">PDPN</text>
<text transform="translate(195 139.2) scale(1 1.08)" font-size="5.2" fill="#222" stroke="#222" stroke-width="0.12">CNN1</text>
<text transform="translate(164.4 141.9) scale(1 1.08)" font-size="5.2" fill="#222" stroke="#222" stroke-width="0.12">CRY1</text>
<text transform="translate(178 145.5) scale(1 1.08)" font-size="5.2" fill="#222" stroke="#222" stroke-width="0.12">SPARC</text>
<circle cx="412.14" cy="133.93" r="1.4" fill="#3b3b3b"/>
<circle cx="406.71" cy="139.21" r="1.4" fill="#3b3b3b"/>
<circle cx="394.94" cy="140.38" r="1.4" fill="#3b3b3b"/>
<circle cx="394.34" cy="136.59" r="1.4" fill="#3b3b3b"/>
<circle cx="391.3" cy="139.67" r="1.4" fill="#3b3b3b"/>
<circle cx="410.42" cy="135.58" r="1.4" fill="#3b3b3b"/>
<circle cx="392.17" cy="140.32" r="1.4" fill="#3b3b3b"/>
<circle cx="392.02" cy="138.55" r="1.4" fill="#3b3b3b"/>
<circle cx="412.74" cy="133.88" r="1.4" fill="#3b3b3b"/>
<circle cx="393.38" cy="140.09" r="1.4" fill="#3b3b3b"/>
<circle cx="395.13" cy="140.83" r="1.4" fill="#3b3b3b"/>
<circle cx="399.6" cy="140.47" r="1.4" fill="#3b3b3b"/>
<circle cx="399.68" cy="140.48" r="1.4" fill="#3b3b3b"/>
<circle cx="393.32" cy="136.61" r="1.4" fill="#3b3b3b"/>
<circle cx="394.74" cy="135.59" r="1.4" fill="#3b3b3b"/>
<circle cx="403.04" cy="140.95" r="1.4" fill="#3b3b3b"/>
<circle cx="405.52" cy="140.76" r="1.4" fill="#3b3b3b"/>
<circle cx="396.69" cy="141.97" r="1.4" fill="#3b3b3b"/>
<circle cx="392.64" cy="139" r="1.4" fill="#3b3b3b"/>
<circle cx="395.14" cy="137.14" r="1.4" fill="#3b3b3b"/>
<circle cx="404.66" cy="140.85" r="1.4" fill="#3b3b3b"/>
<circle cx="392.5" cy="138.51" r="1.4" fill="#3b3b3b"/>
<circle cx="409.98" cy="137.37" r="1.4" fill="#3b3b3b"/>
<circle cx="403.61" cy="140.84" r="1.4" fill="#3b3b3b"/>
<circle cx="405.66" cy="138.78" r="1.4" fill="#3b3b3b"/>
<circle cx="392.34" cy="137.68" r="1.4" fill="#3b3b3b"/>
<circle cx="409.58" cy="137.02" r="1.4" fill="#3b3b3b"/>
<circle cx="404.53" cy="140.31" r="1.4" fill="#3b3b3b"/>
<circle cx="396.03" cy="136.09" r="1.4" fill="#3b3b3b"/>
<circle cx="400.53" cy="141.16" r="1.4" fill="#3b3b3b"/>
<circle cx="394.45" cy="136.49" r="1.4" fill="#3b3b3b"/>
<circle cx="393.45" cy="137.47" r="1.4" fill="#3b3b3b"/>
<circle cx="391.84" cy="140.85" r="1.4" fill="#3b3b3b"/>
<circle cx="399.99" cy="140.88" r="1.4" fill="#3b3b3b"/>
<circle cx="406.32" cy="139.92" r="1.4" fill="#3b3b3b"/>
<circle cx="404.01" cy="139.64" r="1.4" fill="#3b3b3b"/>
<circle cx="393.28" cy="140.17" r="1.4" fill="#3b3b3b"/>
<circle cx="401.62" cy="139.87" r="1.4" fill="#3b3b3b"/>
<circle cx="393.6" cy="140.97" r="1.4" fill="#3b3b3b"/>
<circle cx="405.29" cy="139.87" r="1.4" fill="#3b3b3b"/>
<circle cx="399.23" cy="140.36" r="1.4" fill="#3b3b3b"/>
<circle cx="410.05" cy="136.19" r="1.4" fill="#3b3b3b"/>
<circle cx="410.54" cy="134.27" r="1.4" fill="#3b3b3b"/>
<circle cx="409.94" cy="137.07" r="1.4" fill="#3b3b3b"/>
<circle cx="392.81" cy="141.4" r="1.4" fill="#3b3b3b"/>
<circle cx="391.74" cy="139.49" r="1.4" fill="#3b3b3b"/>
<circle cx="401.88" cy="140.2" r="1.4" fill="#3b3b3b"/>
<circle cx="409.16" cy="137.81" r="1.4" fill="#3b3b3b"/>
<circle cx="405.93" cy="140.1" r="1.4" fill="#3b3b3b"/>
<circle cx="399.14" cy="140.1" r="1.4" fill="#3b3b3b"/>
<circle cx="395.91" cy="137.21" r="1.4" fill="#3b3b3b"/>
<circle cx="394.2" cy="136.17" r="1.4" fill="#3b3b3b"/>
<circle cx="397.01" cy="138.53" r="1.4" fill="#3b3b3b"/>
<circle cx="397.17" cy="138.78" r="1.4" fill="#3b3b3b"/>
<circle cx="397.64" cy="137.63" r="1.4" fill="#3b3b3b"/>
<circle cx="395.3" cy="137.82" r="1.4" fill="#3b3b3b"/>
<circle cx="387.5" cy="132.5" r="1.4" fill="#3b3b3b"/>
<circle cx="388.2" cy="134" r="1.4" fill="#3b3b3b"/>
<circle cx="389" cy="135.6" r="1.4" fill="#3b3b3b"/>
<circle cx="414.8" cy="131.9" r="1.4" fill="#3b3b3b"/>
<circle cx="416.9" cy="132.8" r="1.4" fill="#3b3b3b"/>
<circle cx="416.3" cy="140" r="1.4" fill="#3b3b3b"/>
<circle cx="386.9" cy="131.3" r="1.4" fill="#3b3b3b"/>
<circle cx="382.5" cy="123.1" r="1.4" fill="#173a82"/>
<circle cx="387.5" cy="129.8" r="1.4" fill="#173a82"/>
<circle cx="389" cy="129.4" r="1.4" fill="#173a82"/>
<circle cx="416.9" cy="130.6" r="1.4" fill="#173a82"/>
<circle cx="417.5" cy="117.5" r="1.4" fill="#173a82"/>
<circle cx="418.8" cy="118.8" r="1.4" fill="#173a82"/>
<circle cx="418.1" cy="120" r="1.4" fill="#173a82"/>
<circle cx="421.9" cy="116" r="1.4" fill="#173a82"/>
<circle cx="421.3" cy="123.1" r="1.4" fill="#173a82"/>
<circle cx="422.5" cy="126.3" r="1.4" fill="#173a82"/>
<circle cx="416.7" cy="118.5" r="1.4" fill="#173a82"/>
<circle cx="420.2" cy="117.6" r="1.4" fill="#173a82"/>
<circle cx="446.2" cy="62.5" r="1.4" fill="#ac0018"/>
<circle cx="432.4" cy="78.9" r="1.4" fill="#ac0018"/>
<circle cx="435.3" cy="96.2" r="1.4" fill="#ac0018"/>
<circle cx="369.7" cy="103.5" r="1.4" fill="#ac0018"/>
<circle cx="449.8" cy="106.1" r="1.4" fill="#ac0018"/>
<circle cx="424.5" cy="112.1" r="1.4" fill="#ac0018"/>
<circle cx="373.5" cy="126.9" r="1.4" fill="#ac0018"/>
<circle cx="379.6" cy="130.6" r="1.4" fill="#ac0018"/>
<circle cx="425.6" cy="115.3" r="1.4" fill="#ac0018"/>
<circle cx="426.3" cy="116.9" r="1.4" fill="#ac0018"/>
<circle cx="425.6" cy="111.9" r="1.4" fill="#ac0018"/>
<circle cx="428.1" cy="128.8" r="1.4" fill="#ac0018"/>
<circle cx="426.3" cy="130.6" r="1.4" fill="#ac0018"/>
<circle cx="424.4" cy="130" r="1.4" fill="#ac0018"/>
<circle cx="435" cy="123.8" r="1.4" fill="#ac0018"/>
<circle cx="436.9" cy="125.6" r="1.4" fill="#ac0018"/>
<circle cx="433.8" cy="128.1" r="1.4" fill="#ac0018"/>
<circle cx="438.1" cy="126.9" r="1.4" fill="#ac0018"/>
<circle cx="435.7" cy="120.4" r="1.4" fill="#ac0018"/>
<circle cx="436.6" cy="125.1" r="1.4" fill="#ac0018"/>
<circle cx="434" cy="126" r="1.4" fill="#ac0018"/>
<circle cx="443.5" cy="130.3" r="1.4" fill="#ac0018"/>
<circle cx="423.6" cy="127.7" r="1.4" fill="#ac0018"/>
<circle cx="428" cy="128.5" r="1.4" fill="#ac0018"/>
<circle cx="429.7" cy="127.7" r="1.4" fill="#ac0018"/>
<circle cx="440.8" cy="125.7" r="1.4" fill="#ac0018"/>
<circle cx="436.4" cy="119.6" r="1.4" fill="#ac0018"/>
<circle cx="423.1" cy="136.3" r="1.4" fill="#55a838"/>
<circle cx="426.9" cy="135.6" r="1.4" fill="#55a838"/>
<circle cx="439" cy="136.3" r="1.4" fill="#55a838"/>
<circle cx="426.2" cy="136.8" r="1.4" fill="#55a838"/>
<line x1="447.7" y1="97.3" x2="436.4" y2="119.6" stroke="#000" stroke-width="0.95" stroke-linecap="butt"/>
<line x1="449.8" y1="106.1" x2="461.5" y2="102.3" stroke="#000" stroke-width="0.95" stroke-linecap="butt"/>
<line x1="462.4" y1="118.7" x2="440.8" y2="125.7" stroke="#000" stroke-width="0.95" stroke-linecap="butt"/>
<line x1="416.3" y1="125" x2="433.8" y2="128.1" stroke="#000" stroke-width="0.95" stroke-linecap="butt"/>
<line x1="420" y1="116.3" x2="422" y2="115.8" stroke="#000" stroke-width="0.95" stroke-linecap="butt"/>
<line x1="421.3" y1="131.9" x2="423" y2="127" stroke="#000" stroke-width="0.95" stroke-linecap="butt"/>
<line x1="426.3" y1="130" x2="424.4" y2="136.9" stroke="#000" stroke-width="0.95" stroke-linecap="butt"/>
<line x1="441.6" y1="119.3" x2="444" y2="117" stroke="#000" stroke-width="0.95" stroke-linecap="butt"/>
<text transform="translate(439.3 69.4) scale(1 1.08)" font-size="5.2" fill="#222" stroke="#222" stroke-width="0.12">LDHA</text>
<text transform="translate(426.3 86) scale(1 1.08)" font-size="5.2" fill="#222" stroke="#222" stroke-width="0.12">PKM</text>
<text transform="translate(413.9 98.1) scale(1 1.08)" font-size="5.2" fill="#222" stroke="#222" stroke-width="0.12">NDRG1</text>
<text transform="translate(437.2 96.4) scale(1 1.08)" font-size="5.2" fill="#222" stroke="#222" stroke-width="0.12">CDKN1A</text>
<text transform="translate(441 104.4) scale(1 1.08)" font-size="5.2" fill="#222" stroke="#222" stroke-width="0.12">CXCL2</text>
<text transform="translate(461.5 104.4) scale(1 1.08)" font-size="5.2" fill="#222" stroke="#222" stroke-width="0.12">EDN1</text>
<text transform="translate(408.4 110.7) scale(1 1.08)" font-size="5.2" fill="#222" stroke="#222" stroke-width="0.12">SLC2A1</text>
<text transform="translate(363.7 110.8) scale(1 1.08)" font-size="5.2" fill="#222" stroke="#222" stroke-width="0.12">CKB</text>
<text transform="translate(407.8 118.7) scale(1 1.08)" font-size="5.2" fill="#222" stroke="#222" stroke-width="0.12">NBN</text>
<text transform="translate(435.2 119.2) scale(1 1.08)" font-size="5.2" fill="#222" stroke="#222" stroke-width="0.12">EGLN3</text>
<text transform="translate(462.4 120.5) scale(1 1.08)" font-size="5.2" fill="#222" stroke="#222" stroke-width="0.12">RET</text>
<text transform="translate(393.8 126.9) scale(1 1.08)" font-size="5.2" fill="#222" stroke="#222" stroke-width="0.12">TNFSF15</text>
<text transform="translate(422.5 125.6) scale(1 1.08)" font-size="5.2" fill="#222" stroke="#222" stroke-width="0.12">EML1</text>
<text transform="translate(440.4 128.6) scale(1 1.08)" font-size="5.2" fill="#222" stroke="#222" stroke-width="0.12">SERPINE1</text>
<text transform="translate(348.1 129.8) scale(1 1.08)" font-size="5.2" fill="#222" stroke="#222" stroke-width="0.12">SLC29A1</text>
<text transform="translate(405 134.4) scale(1 1.08)" font-size="5.2" fill="#222" stroke="#222" stroke-width="0.12">STC2</text>
<text transform="translate(440 137.6) scale(1 1.08)" font-size="5.2" fill="#222" stroke="#222" stroke-width="0.12">TMEM45A</text>
<text transform="translate(373 138.1) scale(1 1.08)" font-size="5.2" fill="#222" stroke="#222" stroke-width="0.12">FLT1</text>
<text transform="translate(416.9 141.3) scale(1 1.08)" font-size="5.2" fill="#222" stroke="#222" stroke-width="0.12">VEGFA</text>
<circle cx="139.8" cy="288.5" r="1.5" fill="#3b3b3b"/>
<circle cx="138.8" cy="291" r="1.5" fill="#3b3b3b"/>
<circle cx="136" cy="295" r="1.5" fill="#3b3b3b"/>
<circle cx="130" cy="295" r="1.5" fill="#3b3b3b"/>
<circle cx="130.2" cy="294.4" r="1.5" fill="#3b3b3b"/>
<circle cx="138.1" cy="296.3" r="1.5" fill="#3b3b3b"/>
<circle cx="140" cy="297.5" r="1.5" fill="#3b3b3b"/>
<circle cx="141.9" cy="298.1" r="1.5" fill="#3b3b3b"/>
<circle cx="143.8" cy="298.5" r="1.5" fill="#3b3b3b"/>
<circle cx="145.6" cy="298.8" r="1.5" fill="#3b3b3b"/>
<circle cx="147.5" cy="299" r="1.5" fill="#3b3b3b"/>
<circle cx="149.4" cy="298.8" r="1.5" fill="#3b3b3b"/>
<circle cx="151.3" cy="298.5" r="1.5" fill="#3b3b3b"/>
<circle cx="153.1" cy="297.8" r="1.5" fill="#3b3b3b"/>
<circle cx="155" cy="297.3" r="1.5" fill="#3b3b3b"/>
<circle cx="156.9" cy="297.8" r="1.5" fill="#3b3b3b"/>
<circle cx="158.8" cy="293.8" r="1.5" fill="#3b3b3b"/>
<circle cx="161.9" cy="295.6" r="1.5" fill="#3b3b3b"/>
<circle cx="166.9" cy="295.6" r="1.5" fill="#3b3b3b"/>
<circle cx="163.1" cy="290.6" r="1.5" fill="#3b3b3b"/>
<circle cx="165" cy="291.3" r="1.5" fill="#3b3b3b"/>
<circle cx="167.5" cy="291.3" r="1.5" fill="#3b3b3b"/>
<circle cx="144.5" cy="297" r="1.5" fill="#3b3b3b"/>
<circle cx="148.5" cy="297.8" r="1.5" fill="#3b3b3b"/>
<circle cx="152" cy="297.2" r="1.5" fill="#3b3b3b"/>
<circle cx="142.5" cy="296.6" r="1.5" fill="#3b3b3b"/>
<circle cx="138.75" cy="294.38" r="1.5" fill="#3b3b3b"/>
<circle cx="141.25" cy="296.88" r="1.5" fill="#3b3b3b"/>
<circle cx="143.12" cy="298.12" r="1.5" fill="#3b3b3b"/>
<circle cx="145" cy="299.38" r="1.5" fill="#3b3b3b"/>
<circle cx="146.88" cy="299.75" r="1.5" fill="#3b3b3b"/>
<circle cx="148.75" cy="299.38" r="1.5" fill="#3b3b3b"/>
<circle cx="150.62" cy="299" r="1.5" fill="#3b3b3b"/>
<circle cx="152.5" cy="298.5" r="1.5" fill="#3b3b3b"/>
<circle cx="154.38" cy="298.12" r="1.5" fill="#3b3b3b"/>
<circle cx="156.25" cy="298.12" r="1.5" fill="#3b3b3b"/>
<circle cx="157.5" cy="293.75" r="1.5" fill="#3b3b3b"/>
<circle cx="158.75" cy="295" r="1.5" fill="#3b3b3b"/>
<circle cx="161.88" cy="296.25" r="1.5" fill="#3b3b3b"/>
<circle cx="140" cy="295.62" r="1.5" fill="#3b3b3b"/>
<circle cx="142.5" cy="297.25" r="1.5" fill="#3b3b3b"/>
<circle cx="151.88" cy="297.5" r="1.5" fill="#3b3b3b"/>
<circle cx="153.75" cy="297.25" r="1.5" fill="#3b3b3b"/>
<circle cx="133.3" cy="257.8" r="1.4" fill="#173a82"/>
<circle cx="135.3" cy="283.1" r="1.4" fill="#173a82"/>
<circle cx="165.6" cy="278.1" r="1.4" fill="#173a82"/>
<circle cx="168.8" cy="286.9" r="1.4" fill="#173a82"/>
<circle cx="170" cy="286.5" r="1.4" fill="#173a82"/>
<circle cx="168.5" cy="285.5" r="1.4" fill="#173a82"/>
<circle cx="212.8" cy="235.6" r="1.4" fill="#ac0018"/>
<circle cx="217.1" cy="242.1" r="1.4" fill="#ac0018"/>
<circle cx="196.9" cy="247.2" r="1.4" fill="#ac0018"/>
<circle cx="124.4" cy="271" r="1.4" fill="#ac0018"/>
<circle cx="106.7" cy="286.8" r="1.4" fill="#ac0018"/>
<circle cx="181.6" cy="271.3" r="1.4" fill="#ac0018"/>
<circle cx="181.6" cy="272.8" r="1.4" fill="#ac0018"/>
<circle cx="179" cy="278.2" r="1.4" fill="#ac0018"/>
<circle cx="172.5" cy="284" r="1.4" fill="#ac0018"/>
<circle cx="172.3" cy="285.6" r="1.4" fill="#ac0018"/>
<circle cx="173.1" cy="286.9" r="1.4" fill="#ac0018"/>
<circle cx="179.4" cy="286.9" r="1.4" fill="#ac0018"/>
<circle cx="181.3" cy="286.3" r="1.4" fill="#ac0018"/>
<circle cx="183.4" cy="285.7" r="1.4" fill="#ac0018"/>
<circle cx="215" cy="288.7" r="1.4" fill="#55a838"/>
<circle cx="186.8" cy="292.6" r="1.4" fill="#55a838"/>
<line x1="161.9" y1="284" x2="171.3" y2="284" stroke="#000" stroke-width="0.95" stroke-linecap="butt"/>
<line x1="179.5" y1="286.5" x2="186.8" y2="292.6" stroke="#000" stroke-width="0.95" stroke-linecap="butt"/>
<text transform="translate(208.6 242.5) scale(1 1.08)" font-size="5.45" fill="#222" stroke="#222" stroke-width="0.12">F3</text>
<text transform="translate(211.9 249.8) scale(1 1.08)" font-size="5.45" fill="#222" stroke="#222" stroke-width="0.12">IL10</text>
<text transform="translate(188.5 254.1) scale(1 1.08)" font-size="5.45" fill="#222" stroke="#222" stroke-width="0.12">CXCL3</text>
<text transform="translate(166.6 269.4) scale(1 1.08)" font-size="5.45" fill="#222" stroke="#222" stroke-width="0.12">IL2RA</text>
<text transform="translate(112.7 277.3) scale(1 1.08)" font-size="5.45" fill="#222" stroke="#222" stroke-width="0.12">TNFRSF4</text>
<text transform="translate(164.2 279) scale(1 1.08)" font-size="5.45" fill="#222" stroke="#222" stroke-width="0.12">STK3</text>
<text transform="translate(181 280.1) scale(1 1.08)" font-size="5.45" fill="#222" stroke="#222" stroke-width="0.12">IL15</text>
<text transform="translate(147 286.8) scale(1 1.08)" font-size="5.45" fill="#222" stroke="#222" stroke-width="0.12">HAMP</text>
<text transform="translate(98.2 294.4) scale(1 1.08)" font-size="5.45" fill="#222" stroke="#222" stroke-width="0.12">IGHG1</text>
<text transform="translate(184.8 290) scale(1 1.08)" font-size="5.45" fill="#222" stroke="#222" stroke-width="0.12">DMBT1</text>
<text transform="translate(162.5 292.5) scale(1 1.08)" font-size="5.45" fill="#222" stroke="#222" stroke-width="0.12">MMP9</text>
<text transform="translate(180.5 300) scale(1 1.08)" font-size="5.45" fill="#222" stroke="#222" stroke-width="0.12">CD80</text>
<polygon points="390.5,289 399.5,289.6 405,297 412.5,290 418,289.5 418,300.5 396,300.8 392,300.8 390.5,299.5" fill="#3b3b3b"/>
<circle cx="396.72" cy="300.7" r="1.4" fill="#3b3b3b"/>
<circle cx="416.63" cy="300.27" r="1.4" fill="#3b3b3b"/>
<circle cx="390.37" cy="290.83" r="1.4" fill="#3b3b3b"/>
<circle cx="417.86" cy="299.95" r="1.4" fill="#3b3b3b"/>
<circle cx="417.92" cy="296.41" r="1.4" fill="#3b3b3b"/>
<circle cx="392.29" cy="289.19" r="1.4" fill="#3b3b3b"/>
<circle cx="394.23" cy="289.26" r="1.4" fill="#3b3b3b"/>
<circle cx="390.23" cy="298.08" r="1.4" fill="#3b3b3b"/>
<circle cx="405.81" cy="300.73" r="1.4" fill="#3b3b3b"/>
<circle cx="415.93" cy="300.78" r="1.4" fill="#3b3b3b"/>
<circle cx="417.98" cy="292.04" r="1.4" fill="#3b3b3b"/>
<circle cx="415.6" cy="300.82" r="1.4" fill="#3b3b3b"/>
<circle cx="417.96" cy="300.38" r="1.4" fill="#3b3b3b"/>
<circle cx="398.78" cy="300.52" r="1.4" fill="#3b3b3b"/>
<circle cx="417.82" cy="294.57" r="1.4" fill="#3b3b3b"/>
<circle cx="402.53" cy="300.92" r="1.4" fill="#3b3b3b"/>
<circle cx="399.24" cy="289.37" r="1.4" fill="#3b3b3b"/>
<circle cx="417.75" cy="296.2" r="1.4" fill="#3b3b3b"/>
<circle cx="417.84" cy="289.67" r="1.4" fill="#3b3b3b"/>
<circle cx="398.28" cy="300.88" r="1.4" fill="#3b3b3b"/>
<circle cx="408.04" cy="300.63" r="1.4" fill="#3b3b3b"/>
<circle cx="410.3" cy="300.33" r="1.4" fill="#3b3b3b"/>
<circle cx="417.03" cy="300.29" r="1.4" fill="#3b3b3b"/>
<circle cx="402.37" cy="300.9" r="1.4" fill="#3b3b3b"/>
<circle cx="417.86" cy="297.65" r="1.4" fill="#3b3b3b"/>
<circle cx="408.89" cy="300.88" r="1.4" fill="#3b3b3b"/>
<circle cx="390.72" cy="289.38" r="1.4" fill="#3b3b3b"/>
<circle cx="414.68" cy="290.05" r="1.4" fill="#3b3b3b"/>
<circle cx="404.27" cy="300.36" r="1.4" fill="#3b3b3b"/>
<circle cx="409.71" cy="300.79" r="1.4" fill="#3b3b3b"/>
<text transform="translate(416.5 299.2) scale(1 1.08)" font-size="5.2" fill="#222" stroke="#222" stroke-width="0.12">SLC44A</text>
<circle cx="388.86" cy="298.54" r="1.4" fill="#55a838"/>
<circle cx="386.6" cy="291.19" r="1.4" fill="#55a838"/>
<circle cx="388.48" cy="297.69" r="1.4" fill="#55a838"/>
<circle cx="388.17" cy="296.79" r="1.4" fill="#55a838"/>
<circle cx="386.85" cy="296.41" r="1.4" fill="#55a838"/>
<circle cx="388.45" cy="292.74" r="1.4" fill="#55a838"/>
<circle cx="387.06" cy="292.7" r="1.4" fill="#55a838"/>
<circle cx="388.05" cy="295.98" r="1.4" fill="#55a838"/>
<circle cx="387.23" cy="290.91" r="1.4" fill="#55a838"/>
<circle cx="387.44" cy="294.29" r="1.4" fill="#55a838"/>
<circle cx="417.58" cy="292.42" r="1.4" fill="#55a838"/>
<circle cx="420.96" cy="300.31" r="1.4" fill="#55a838"/>
<circle cx="422.33" cy="299.41" r="1.4" fill="#55a838"/>
<circle cx="421.06" cy="291.62" r="1.4" fill="#55a838"/>
<circle cx="419.35" cy="300.33" r="1.4" fill="#55a838"/>
<circle cx="422.78" cy="292.49" r="1.4" fill="#55a838"/>
<circle cx="417.66" cy="294.78" r="1.4" fill="#55a838"/>
<circle cx="422.56" cy="293.84" r="1.4" fill="#55a838"/>
<circle cx="419.43" cy="296.81" r="1.4" fill="#55a838"/>
<circle cx="424.44" cy="291.52" r="1.4" fill="#55a838"/>
<circle cx="417.76" cy="292.86" r="1.4" fill="#55a838"/>
<circle cx="420.65" cy="296.99" r="1.4" fill="#55a838"/>
<circle cx="418.99" cy="298.36" r="1.4" fill="#55a838"/>
<circle cx="423.04" cy="294.86" r="1.4" fill="#55a838"/>
<circle cx="419.04" cy="300.44" r="1.4" fill="#55a838"/>
<circle cx="419.84" cy="298.64" r="1.4" fill="#55a838"/>
<circle cx="419.23" cy="291.46" r="1.4" fill="#55a838"/>
<circle cx="423.2" cy="292.34" r="1.4" fill="#55a838"/>
<circle cx="424.64" cy="294.75" r="1.4" fill="#55a838"/>
<circle cx="418.9" cy="291.48" r="1.4" fill="#55a838"/>
<circle cx="420.63" cy="296.78" r="1.4" fill="#55a838"/>
<circle cx="424.62" cy="290.56" r="1.4" fill="#55a838"/>
<circle cx="420.45" cy="291.36" r="1.4" fill="#55a838"/>
<circle cx="424.81" cy="290.5" r="1.4" fill="#55a838"/>
<circle cx="417.89" cy="289.52" r="1.4" fill="#55a838"/>
<circle cx="420.45" cy="299.58" r="1.4" fill="#55a838"/>
<circle cx="424.13" cy="297.59" r="1.4" fill="#55a838"/>
<circle cx="424.98" cy="299.98" r="1.4" fill="#55a838"/>
<circle cx="419.97" cy="291.03" r="1.4" fill="#55a838"/>
<circle cx="424.52" cy="297.76" r="1.4" fill="#55a838"/>
<circle cx="425.35" cy="296.97" r="1.4" fill="#55a838"/>
<circle cx="429.16" cy="293.49" r="1.4" fill="#55a838"/>
<circle cx="428.65" cy="291.03" r="1.4" fill="#55a838"/>
<circle cx="425.03" cy="292.36" r="1.4" fill="#55a838"/>
<circle cx="428.87" cy="300.47" r="1.4" fill="#55a838"/>
<circle cx="426.36" cy="300.57" r="1.4" fill="#55a838"/>
<circle cx="427.28" cy="293.28" r="1.4" fill="#55a838"/>
<circle cx="434.04" cy="298.86" r="1.4" fill="#55a838"/>
<circle cx="429.76" cy="289.59" r="1.4" fill="#55a838"/>
<circle cx="430.21" cy="293.47" r="1.4" fill="#55a838"/>
<circle cx="435.11" cy="291.32" r="1.4" fill="#55a838"/>
<circle cx="429.01" cy="299.76" r="1.4" fill="#55a838"/>
<circle cx="425.33" cy="293.93" r="1.4" fill="#55a838"/>
<circle cx="433.93" cy="298.2" r="1.4" fill="#55a838"/>
<circle cx="437" cy="293" r="1.4" fill="#55a838"/>
<circle cx="444" cy="299.3" r="1.4" fill="#55a838"/>
<circle cx="448" cy="299.3" r="1.4" fill="#55a838"/>
<circle cx="452.5" cy="299.3" r="1.4" fill="#55a838"/>
<circle cx="457.5" cy="299.3" r="1.4" fill="#55a838"/>
<circle cx="460" cy="292.2" r="1.4" fill="#55a838"/>
<circle cx="465" cy="299.5" r="1.4" fill="#55a838"/>
<circle cx="433" cy="295.5" r="1.4" fill="#55a838"/>
<circle cx="440" cy="289.5" r="1.4" fill="#55a838"/>
<circle cx="446" cy="296" r="1.4" fill="#55a838"/>
<circle cx="386.5" cy="296.5" r="1.4" fill="#55a838"/>
<circle cx="385.5" cy="300" r="1.4" fill="#55a838"/>
<circle cx="455.6" cy="299.8" r="1.4" fill="#55a838"/>
<circle cx="470.5" cy="291.5" r="1.4" fill="#55a838"/>
<circle cx="418.5" cy="265.3" r="1.4" fill="#173a82"/>
<circle cx="395.4" cy="280.6" r="1.4" fill="#173a82"/>
<circle cx="415" cy="284" r="1.4" fill="#173a82"/>
<circle cx="417" cy="285.5" r="1.4" fill="#173a82"/>
<circle cx="414.5" cy="286.5" r="1.4" fill="#173a82"/>
<circle cx="416.5" cy="287.2" r="1.4" fill="#173a82"/>
<circle cx="413" cy="287" r="1.4" fill="#173a82"/>
<circle cx="418.5" cy="283.5" r="1.4" fill="#173a82"/>
<circle cx="412" cy="285.8" r="1.4" fill="#173a82"/>
<circle cx="486.3" cy="225" r="1.4" fill="#ac0018"/>
<circle cx="485.5" cy="242.5" r="1.4" fill="#ac0018"/>
<circle cx="465.8" cy="252" r="1.4" fill="#ac0018"/>
<circle cx="447.5" cy="257.5" r="1.4" fill="#ac0018"/>
<circle cx="428.5" cy="259.5" r="1.4" fill="#ac0018"/>
<circle cx="437.5" cy="271.3" r="1.4" fill="#ac0018"/>
<circle cx="446.9" cy="275.6" r="1.4" fill="#ac0018"/>
<circle cx="464.4" cy="273.1" r="1.4" fill="#ac0018"/>
<circle cx="446.5" cy="279.4" r="1.4" fill="#ac0018"/>
<circle cx="480" cy="279.4" r="1.4" fill="#ac0018"/>
<circle cx="466.3" cy="276.3" r="1.4" fill="#ac0018"/>
<circle cx="433.1" cy="276.3" r="1.4" fill="#ac0018"/>
<circle cx="443.8" cy="272.5" r="1.4" fill="#ac0018"/>
<circle cx="428.8" cy="260" r="1.4" fill="#ac0018"/>
<circle cx="460" cy="291.9" r="1.4" fill="#55a838"/>
<circle cx="421.25" cy="287.24" r="1.4" fill="#ac0018"/>
<circle cx="425.14" cy="285.6" r="1.4" fill="#ac0018"/>
<circle cx="425.45" cy="287.6" r="1.4" fill="#ac0018"/>
<circle cx="432.34" cy="280.99" r="1.4" fill="#ac0018"/>
<circle cx="435.11" cy="287.21" r="1.4" fill="#ac0018"/>
<circle cx="432.68" cy="287.46" r="1.4" fill="#ac0018"/>
<circle cx="429.5" cy="287.59" r="1.4" fill="#ac0018"/>
<circle cx="429.87" cy="287.32" r="1.4" fill="#ac0018"/>
<circle cx="423.66" cy="286.12" r="1.4" fill="#ac0018"/>
<circle cx="434.77" cy="286.32" r="1.4" fill="#ac0018"/>
<circle cx="435.46" cy="284.27" r="1.4" fill="#ac0018"/>
<circle cx="427.24" cy="285.93" r="1.4" fill="#ac0018"/>
<circle cx="431.05" cy="281.59" r="1.4" fill="#ac0018"/>
<circle cx="429.97" cy="285.24" r="1.4" fill="#ac0018"/>
<circle cx="428.94" cy="280.72" r="1.4" fill="#ac0018"/>
<circle cx="428.34" cy="284.39" r="1.4" fill="#ac0018"/>
<circle cx="433.48" cy="285.61" r="1.4" fill="#ac0018"/>
<circle cx="436.94" cy="284.81" r="1.4" fill="#ac0018"/>
<circle cx="422.42" cy="286.49" r="1.4" fill="#ac0018"/>
<circle cx="425.88" cy="283.89" r="1.4" fill="#ac0018"/>
<circle cx="427.46" cy="285.51" r="1.4" fill="#ac0018"/>
<circle cx="424.63" cy="286.18" r="1.4" fill="#ac0018"/>
<circle cx="433.07" cy="287.91" r="1.4" fill="#ac0018"/>
<circle cx="436.38" cy="286.49" r="1.4" fill="#ac0018"/>
<circle cx="423.79" cy="287.74" r="1.4" fill="#ac0018"/>
<circle cx="431.66" cy="287.34" r="1.4" fill="#ac0018"/>
<circle cx="427.44" cy="286.73" r="1.4" fill="#ac0018"/>
<circle cx="428.98" cy="280.97" r="1.4" fill="#ac0018"/>
<circle cx="421.5" cy="270.4" r="1.4" fill="#ac0018"/>
<circle cx="425.4" cy="274.2" r="1.4" fill="#ac0018"/>
<circle cx="433" cy="275.8" r="1.4" fill="#ac0018"/>
<circle cx="436.9" cy="271.2" r="1.4" fill="#ac0018"/>
<circle cx="443" cy="272.7" r="1.4" fill="#ac0018"/>
<circle cx="447" cy="275.8" r="1.4" fill="#ac0018"/>
<circle cx="447" cy="279.2" r="1.4" fill="#ac0018"/>
<circle cx="423" cy="283" r="1.4" fill="#ac0018"/>
<circle cx="426" cy="280.5" r="1.4" fill="#ac0018"/>
<line x1="390" y1="251" x2="426.9" y2="276.9" stroke="#000" stroke-width="0.95" stroke-linecap="butt"/>
<line x1="408" y1="258.5" x2="428" y2="277.5" stroke="#000" stroke-width="0.95" stroke-linecap="butt"/>
<line x1="419.2" y1="251.5" x2="428.5" y2="259.2" stroke="#000" stroke-width="0.95" stroke-linecap="butt"/>
<line x1="440.8" y1="251.5" x2="437.5" y2="271" stroke="#000" stroke-width="0.95" stroke-linecap="butt"/>
<line x1="433.7" y1="255" x2="431.9" y2="282" stroke="#000" stroke-width="0.95" stroke-linecap="butt"/>
<line x1="400.6" y1="263.3" x2="409.4" y2="263.3" stroke="#000" stroke-width="0.95" stroke-linecap="butt"/>
<line x1="382.5" y1="274" x2="421.3" y2="278.1" stroke="#000" stroke-width="0.95" stroke-linecap="butt"/>
<line x1="457.5" y1="258.8" x2="437.5" y2="281.9" stroke="#000" stroke-width="0.95" stroke-linecap="butt"/>
<line x1="460.6" y1="264.8" x2="438.5" y2="281.5" stroke="#000" stroke-width="0.95" stroke-linecap="butt"/>
<line x1="464.4" y1="273.1" x2="474" y2="272.6" stroke="#000" stroke-width="0.95" stroke-linecap="butt"/>
<line x1="466.3" y1="276.3" x2="478.8" y2="279.4" stroke="#000" stroke-width="0.95" stroke-linecap="butt"/>
<line x1="480" y1="279.4" x2="477.5" y2="285" stroke="#000" stroke-width="0.95" stroke-linecap="butt"/>
<line x1="440" y1="281.9" x2="452.5" y2="286.3" stroke="#000" stroke-width="0.95" stroke-linecap="butt"/>
<line x1="434.6" y1="283" x2="442.3" y2="290.8" stroke="#000" stroke-width="0.95" stroke-linecap="butt"/>
<line x1="411.3" y1="278.5" x2="425" y2="281" stroke="#000" stroke-width="0.95" stroke-linecap="butt"/>
<line x1="460.5" y1="287" x2="470.5" y2="287" stroke="#000" stroke-width="0.95" stroke-linecap="butt"/>
<text transform="translate(473 232) scale(1 1.08)" font-size="5.2" fill="#222" stroke="#222" stroke-width="0.12">SERPING1</text>
<text transform="translate(487.5 243.8) scale(1 1.08)" font-size="5.2" fill="#222" stroke="#222" stroke-width="0.12">HBE1</text>
<text transform="translate(381.1 250.8) scale(1 1.08)" font-size="5.2" fill="#222" stroke="#222" stroke-width="0.12">LCP2</text>
<text transform="translate(410.3 250.8) scale(1 1.08)" font-size="5.2" fill="#222" stroke="#222" stroke-width="0.12">RHOG</text>
<text transform="translate(431.1 250.8) scale(1 1.08)" font-size="5.2" fill="#222" stroke="#222" stroke-width="0.12">FCER1G</text>
<text transform="translate(397.4 258.2) scale(1 1.08)" font-size="5.2" fill="#222" stroke="#222" stroke-width="0.12">CD63</text>
<text transform="translate(426.5 258.2) scale(1 1.08)" font-size="5.2" fill="#222" stroke="#222" stroke-width="0.12">TFAP1</text>
<text transform="translate(450 258.2) scale(1 1.08)" font-size="5.2" fill="#222" stroke="#222" stroke-width="0.12">TIMP1</text>
<text transform="translate(468 257) scale(1 1.08)" font-size="5.2" fill="#222" stroke="#222" stroke-width="0.12">TEK</text>
<text transform="translate(387.5 265.3) scale(1 1.08)" font-size="5.2" fill="#222" stroke="#222" stroke-width="0.12">MAPK3</text>
<text transform="translate(409.4 265.3) scale(1 1.08)" font-size="5.2" fill="#222" stroke="#222" stroke-width="0.12">SHC1</text>
<text transform="translate(438.8 266.2) scale(1 1.08)" font-size="5.2" fill="#222" stroke="#222" stroke-width="0.12">ATP1B1</text>
<text transform="translate(461.3 266.9) scale(1 1.08)" font-size="5.2" fill="#222" stroke="#222" stroke-width="0.12">PLAU</text>
<text transform="translate(406.3 272.5) scale(1 1.08)" font-size="5.2" fill="#222" stroke="#222" stroke-width="0.12">GNG12</text>
<text transform="translate(425.6 273.1) scale(1 1.08)" font-size="5.2" fill="#222" stroke="#222" stroke-width="0.12">PRKAB2</text>
<text transform="translate(443.8 274.4) scale(1 1.08)" font-size="5.2" fill="#222" stroke="#222" stroke-width="0.12">PDE2A</text>
<text transform="translate(473.8 274.6) scale(1 1.08)" font-size="5.2" fill="#222" stroke="#222" stroke-width="0.12">HBG2</text>
<text transform="translate(367.5 276.3) scale(1 1.08)" font-size="5.2" fill="#222" stroke="#222" stroke-width="0.12">GNAI2</text>
<text transform="translate(386.9 280.6) scale(1 1.08)" font-size="5.2" fill="#222" stroke="#222" stroke-width="0.12">PRKACA</text>
<text transform="translate(402 280.6) scale(1 1.08)" font-size="5.2" fill="#222" stroke="#222" stroke-width="0.12">BDKRB</text>
<text transform="translate(448.1 281.9) scale(1 1.08)" font-size="5.2" fill="#222" stroke="#222" stroke-width="0.12">MMP1</text>
<text transform="translate(476.3 282.3) scale(1 1.08)" font-size="5.2" fill="#222" stroke="#222" stroke-width="0.12">SERPINB2</text>
<text transform="translate(391.3 287.8) scale(1 1.08)" font-size="5.2" fill="#222" stroke="#222" stroke-width="0.12">GNA15</text>
<text transform="translate(452 289) scale(1 1.08)" font-size="5.2" fill="#222" stroke="#222" stroke-width="0.12">THBD</text>
<text transform="translate(470.5 289) scale(1 1.08)" font-size="5.2" fill="#222" stroke="#222" stroke-width="0.12">F13B</text>
<text transform="translate(437.3 296.6) scale(1 1.08)" font-size="5.2" fill="#222" stroke="#222" stroke-width="0.12">TREM1</text>
<circle cx="158.12" cy="456.41" r="1.4" fill="#3b3b3b"/>
<circle cx="150" cy="457.1" r="1.4" fill="#3b3b3b"/>
<circle cx="139.7" cy="456.2" r="1.4" fill="#3b3b3b"/>
<circle cx="136.38" cy="456.07" r="1.4" fill="#3b3b3b"/>
<circle cx="133.29" cy="454.29" r="1.4" fill="#3b3b3b"/>
<circle cx="152.28" cy="457.2" r="1.4" fill="#3b3b3b"/>
<circle cx="135.17" cy="454.82" r="1.4" fill="#3b3b3b"/>
<circle cx="133.04" cy="448.81" r="1.4" fill="#3b3b3b"/>
<circle cx="148.19" cy="456.67" r="1.4" fill="#3b3b3b"/>
<circle cx="134.73" cy="452.89" r="1.4" fill="#3b3b3b"/>
<circle cx="136.74" cy="457.25" r="1.4" fill="#3b3b3b"/>
<circle cx="138.46" cy="456.21" r="1.4" fill="#3b3b3b"/>
<circle cx="143.34" cy="458.41" r="1.4" fill="#3b3b3b"/>
<circle cx="139.63" cy="457.42" r="1.4" fill="#3b3b3b"/>
<circle cx="133.28" cy="455.68" r="1.4" fill="#3b3b3b"/>
<circle cx="143.53" cy="457.04" r="1.4" fill="#3b3b3b"/>
<circle cx="161.17" cy="455.97" r="1.4" fill="#3b3b3b"/>
<circle cx="134.12" cy="447.44" r="1.4" fill="#3b3b3b"/>
<circle cx="161.37" cy="457.01" r="1.4" fill="#3b3b3b"/>
<circle cx="140.65" cy="456.07" r="1.4" fill="#3b3b3b"/>
<circle cx="137.25" cy="457.18" r="1.4" fill="#3b3b3b"/>
<circle cx="133.98" cy="451.64" r="1.4" fill="#3b3b3b"/>
<circle cx="163.93" cy="455.68" r="1.4" fill="#3b3b3b"/>
<circle cx="164.84" cy="456.6" r="1.4" fill="#3b3b3b"/>
<circle cx="135.02" cy="448.39" r="1.4" fill="#3b3b3b"/>
<circle cx="162.42" cy="457.51" r="1.4" fill="#3b3b3b"/>
<circle cx="134.93" cy="452.31" r="1.4" fill="#3b3b3b"/>
<circle cx="142.82" cy="457.93" r="1.4" fill="#3b3b3b"/>
<circle cx="133.68" cy="453.64" r="1.4" fill="#3b3b3b"/>
<circle cx="146.28" cy="456.65" r="1.4" fill="#3b3b3b"/>
<circle cx="136.39" cy="456.53" r="1.4" fill="#3b3b3b"/>
<circle cx="134.15" cy="448.78" r="1.4" fill="#3b3b3b"/>
<circle cx="134.81" cy="447.13" r="1.4" fill="#3b3b3b"/>
<circle cx="149.97" cy="458.09" r="1.4" fill="#3b3b3b"/>
<circle cx="137.87" cy="456.71" r="1.4" fill="#3b3b3b"/>
<circle cx="143.22" cy="457.15" r="1.4" fill="#3b3b3b"/>
<circle cx="142.2" cy="457.61" r="1.4" fill="#3b3b3b"/>
<circle cx="144.77" cy="458.1" r="1.4" fill="#3b3b3b"/>
<circle cx="157.04" cy="456.57" r="1.4" fill="#3b3b3b"/>
<circle cx="143.81" cy="456.53" r="1.4" fill="#3b3b3b"/>
<circle cx="142.05" cy="457.16" r="1.4" fill="#3b3b3b"/>
<circle cx="145.14" cy="457.86" r="1.4" fill="#3b3b3b"/>
<circle cx="134.56" cy="450.5" r="1.4" fill="#3b3b3b"/>
<circle cx="145.23" cy="457.54" r="1.4" fill="#3b3b3b"/>
<circle cx="142" cy="456.09" r="1.4" fill="#3b3b3b"/>
<circle cx="144.79" cy="453.02" r="1.4" fill="#3b3b3b"/>
<circle cx="141.9" cy="454.15" r="1.4" fill="#3b3b3b"/>
<circle cx="136.79" cy="449.31" r="1.4" fill="#3b3b3b"/>
<circle cx="145.07" cy="447.77" r="1.4" fill="#3b3b3b"/>
<circle cx="146.76" cy="448.7" r="1.4" fill="#3b3b3b"/>
<circle cx="145.79" cy="447.65" r="1.4" fill="#3b3b3b"/>
<circle cx="142.03" cy="453.86" r="1.4" fill="#3b3b3b"/>
<circle cx="138.5" cy="448.6" r="1.4" fill="#3b3b3b"/>
<circle cx="142.07" cy="449.05" r="1.4" fill="#3b3b3b"/>
<circle cx="144.16" cy="453.66" r="1.4" fill="#3b3b3b"/>
<circle cx="138.02" cy="452.78" r="1.4" fill="#3b3b3b"/>
<circle cx="137.38" cy="450.75" r="1.4" fill="#3b3b3b"/>
<circle cx="143.64" cy="449.38" r="1.4" fill="#3b3b3b"/>
<circle cx="146.48" cy="450.94" r="1.4" fill="#3b3b3b"/>
<circle cx="142.96" cy="453.56" r="1.4" fill="#3b3b3b"/>
<circle cx="143.56" cy="449.65" r="1.4" fill="#3b3b3b"/>
<circle cx="163.57" cy="450.35" r="1.4" fill="#3b3b3b"/>
<circle cx="165.89" cy="452.54" r="1.4" fill="#3b3b3b"/>
<circle cx="158.32" cy="453.85" r="1.4" fill="#3b3b3b"/>
<circle cx="159.31" cy="449.74" r="1.4" fill="#3b3b3b"/>
<circle cx="163.84" cy="450.28" r="1.4" fill="#3b3b3b"/>
<circle cx="161.03" cy="453.15" r="1.4" fill="#3b3b3b"/>
<circle cx="161.39" cy="451.53" r="1.4" fill="#3b3b3b"/>
<circle cx="160.15" cy="454.77" r="1.4" fill="#3b3b3b"/>
<circle cx="155.58" cy="450.09" r="1.4" fill="#3b3b3b"/>
<circle cx="155.28" cy="451" r="1.4" fill="#3b3b3b"/>
<circle cx="156.69" cy="452.59" r="1.4" fill="#3b3b3b"/>
<circle cx="161.07" cy="449.93" r="1.4" fill="#3b3b3b"/>
<circle cx="161.49" cy="451.82" r="1.4" fill="#3b3b3b"/>
<circle cx="156.92" cy="449.55" r="1.4" fill="#3b3b3b"/>
<circle cx="155.15" cy="452.97" r="1.4" fill="#3b3b3b"/>
<circle cx="164.46" cy="453.98" r="1.4" fill="#3b3b3b"/>
<circle cx="164" cy="447" r="1.4" fill="#3b3b3b"/>
<circle cx="166.5" cy="449" r="1.4" fill="#3b3b3b"/>
<circle cx="167.5" cy="452" r="1.4" fill="#3b3b3b"/>
<circle cx="136.3" cy="424.6" r="1.4" fill="#173a82"/>
<circle cx="133.8" cy="441.3" r="1.4" fill="#173a82"/>
<circle cx="164.4" cy="444" r="1.4" fill="#173a82"/>
<circle cx="165.6" cy="431.9" r="1.4" fill="#173a82"/>
<circle cx="209.8" cy="398.1" r="1.4" fill="#ac0018"/>
<circle cx="222.6" cy="410.2" r="1.4" fill="#ac0018"/>
<circle cx="192.4" cy="414.2" r="1.4" fill="#ac0018"/>
<circle cx="196.3" cy="430.7" r="1.4" fill="#ac0018"/>
<circle cx="198.9" cy="435.3" r="1.4" fill="#ac0018"/>
<circle cx="185.6" cy="440.2" r="1.4" fill="#ac0018"/>
<circle cx="187.3" cy="441.9" r="1.4" fill="#ac0018"/>
<circle cx="227.1" cy="441" r="1.4" fill="#ac0018"/>
<circle cx="174.4" cy="440.6" r="1.4" fill="#ac0018"/>
<circle cx="172.5" cy="443.8" r="1.4" fill="#ac0018"/>
<circle cx="176.9" cy="442.5" r="1.4" fill="#ac0018"/>
<circle cx="186.1" cy="440.6" r="1.4" fill="#ac0018"/>
<circle cx="176.6" cy="443.1" r="1.4" fill="#ac0018"/>
<circle cx="120.4" cy="457.3" r="1.4" fill="#55a838"/>
<circle cx="130" cy="452.5" r="1.4" fill="#55a838"/>
<circle cx="169.4" cy="446.5" r="1.4" fill="#55a838"/>
<circle cx="170.5" cy="448.5" r="1.4" fill="#55a838"/>
<circle cx="171.5" cy="450.5" r="1.4" fill="#55a838"/>
<circle cx="170" cy="452.5" r="1.4" fill="#55a838"/>
<circle cx="172.5" cy="447.5" r="1.4" fill="#55a838"/>
<circle cx="172" cy="453.8" r="1.4" fill="#55a838"/>
<circle cx="175.6" cy="448.8" r="1.4" fill="#55a838"/>
<circle cx="179.4" cy="453.1" r="1.4" fill="#55a838"/>
<circle cx="183.5" cy="457.3" r="1.4" fill="#55a838"/>
<circle cx="188.1" cy="453.3" r="1.4" fill="#55a838"/>
<circle cx="197.9" cy="450.2" r="1.4" fill="#55a838"/>
<circle cx="230" cy="451.2" r="1.4" fill="#55a838"/>
<circle cx="174" cy="449.8" r="1.4" fill="#55a838"/>
<line x1="165.6" y1="432" x2="181.9" y2="448.1" stroke="#000" stroke-width="0.95" stroke-linecap="butt"/>
<line x1="155" y1="440.3" x2="172.5" y2="441.3" stroke="#000" stroke-width="0.95" stroke-linecap="butt"/>
<line x1="185.6" y1="435.3" x2="185.6" y2="440.2" stroke="#000" stroke-width="0.95" stroke-linecap="butt"/>
<line x1="199.8" y1="435.4" x2="206.5" y2="436.4" stroke="#000" stroke-width="0.95" stroke-linecap="butt"/>
<line x1="162" y1="449" x2="171" y2="443" stroke="#000" stroke-width="0.95" stroke-linecap="butt"/>
<line x1="164" y1="451" x2="172" y2="444.5" stroke="#000" stroke-width="0.95" stroke-linecap="butt"/>
<text transform="translate(141.9 434.8) scale(1 1.08)" font-size="5.2" fill="#222" stroke="#222" stroke-width="0.12">CDKN1A</text>
<text transform="translate(176.4 435) scale(1 1.08)" font-size="5.2" fill="#222" stroke="#222" stroke-width="0.12">PLAUR</text>
<text transform="translate(139.8 442.3) scale(1 1.08)" font-size="5.2" fill="#222" stroke="#222" stroke-width="0.12">ENO1</text>
<text transform="translate(158.8 441.3) scale(1 1.08)" font-size="5.2" fill="#222" stroke="#222" stroke-width="0.12">GAPDH</text>
<text transform="translate(154.4 449.4) scale(1 1.08)" font-size="5.2" fill="#222" stroke="#222" stroke-width="0.12">PGK1</text>
<text transform="translate(176.9 451.9) scale(1 1.08)" font-size="5.2" fill="#222" stroke="#222" stroke-width="0.12">EGLN3</text>
<text transform="translate(167.8 416.3) scale(1 1.08)" font-size="5.2" fill="#222" stroke="#222" stroke-width="0.12">SLC29A1</text>
<text transform="translate(204.1 405.2) scale(1 1.08)" font-size="5.2" fill="#222" stroke="#222" stroke-width="0.12">CKB</text>
<text transform="translate(218 417.3) scale(1 1.08)" font-size="5.2" fill="#222" stroke="#222" stroke-width="0.12">TEK</text>
<text transform="translate(198.4 431) scale(1 1.08)" font-size="5.2" fill="#222" stroke="#222" stroke-width="0.12">TIMP1</text>
<text transform="translate(207.1 438.4) scale(1 1.08)" font-size="5.2" fill="#222" stroke="#222" stroke-width="0.12">ADM</text>
<text transform="translate(188.5 445.7) scale(1 1.08)" font-size="5.2" fill="#222" stroke="#222" stroke-width="0.12">CXCL2</text>
<text transform="translate(221.4 448) scale(1 1.08)" font-size="5.2" fill="#222" stroke="#222" stroke-width="0.12">KDR</text>
<circle cx="391.9" cy="434" r="1.4" fill="#3b3b3b"/>
<circle cx="395.4" cy="440" r="1.4" fill="#3b3b3b"/>
<circle cx="399.4" cy="441.9" r="1.4" fill="#3b3b3b"/>
<circle cx="402.9" cy="444" r="1.4" fill="#3b3b3b"/>
<circle cx="396" cy="447.3" r="1.4" fill="#3b3b3b"/>
<circle cx="397.5" cy="447.9" r="1.4" fill="#3b3b3b"/>
<circle cx="398.8" cy="448.5" r="1.4" fill="#3b3b3b"/>
<circle cx="402.5" cy="449" r="1.4" fill="#3b3b3b"/>
<circle cx="404.4" cy="449.4" r="1.4" fill="#3b3b3b"/>
<circle cx="405.6" cy="450" r="1.4" fill="#3b3b3b"/>
<circle cx="403.1" cy="452.5" r="1.4" fill="#3b3b3b"/>
<circle cx="401.3" cy="457.5" r="1.4" fill="#3b3b3b"/>
<circle cx="406.9" cy="454.4" r="1.4" fill="#3b3b3b"/>
<circle cx="408.1" cy="455.6" r="1.4" fill="#3b3b3b"/>
<circle cx="409.4" cy="456.3" r="1.4" fill="#3b3b3b"/>
<circle cx="410.6" cy="456.9" r="1.4" fill="#3b3b3b"/>
<circle cx="412.5" cy="455" r="1.4" fill="#3b3b3b"/>
<circle cx="413.8" cy="453.8" r="1.4" fill="#3b3b3b"/>
<circle cx="415" cy="452.5" r="1.4" fill="#3b3b3b"/>
<circle cx="416.3" cy="451.3" r="1.4" fill="#3b3b3b"/>
<circle cx="417.5" cy="449.4" r="1.4" fill="#3b3b3b"/>
<circle cx="420" cy="452.5" r="1.4" fill="#3b3b3b"/>
<circle cx="423.1" cy="446.9" r="1.4" fill="#3b3b3b"/>
<circle cx="423.1" cy="434.4" r="1.4" fill="#3b3b3b"/>
<circle cx="423.8" cy="436.9" r="1.4" fill="#3b3b3b"/>
<circle cx="424.4" cy="438.8" r="1.4" fill="#3b3b3b"/>
<circle cx="425" cy="440.6" r="1.4" fill="#3b3b3b"/>
<circle cx="425.6" cy="442.5" r="1.4" fill="#3b3b3b"/>
<circle cx="426.3" cy="445" r="1.4" fill="#3b3b3b"/>
<circle cx="429.4" cy="434.4" r="1.4" fill="#3b3b3b"/>
<circle cx="411.5" cy="455.8" r="1.4" fill="#3b3b3b"/>
<circle cx="407.5" cy="451.5" r="1.4" fill="#3b3b3b"/>
<circle cx="387.5" cy="436.9" r="1.4" fill="#55a838"/>
<circle cx="390.6" cy="434" r="1.4" fill="#55a838"/>
<circle cx="391.3" cy="439" r="1.4" fill="#55a838"/>
<circle cx="388.1" cy="446.3" r="1.4" fill="#55a838"/>
<circle cx="430.6" cy="430.3" r="1.4" fill="#55a838"/>
<circle cx="433.1" cy="433.8" r="1.4" fill="#55a838"/>
<circle cx="430" cy="436.9" r="1.4" fill="#55a838"/>
<circle cx="434" cy="438.5" r="1.4" fill="#55a838"/>
<circle cx="432.5" cy="441.9" r="1.4" fill="#55a838"/>
<circle cx="433.5" cy="441.9" r="1.4" fill="#55a838"/>
<circle cx="432.3" cy="445.3" r="1.4" fill="#55a838"/>
<circle cx="440" cy="435.3" r="1.4" fill="#55a838"/>
<circle cx="442.1" cy="441.9" r="1.4" fill="#55a838"/>
<circle cx="444.4" cy="432.5" r="1.4" fill="#55a838"/>
<circle cx="431.2" cy="430.3" r="1.4" fill="#55a838"/>
<circle cx="434.7" cy="434.3" r="1.4" fill="#55a838"/>
<circle cx="439.9" cy="435.5" r="1.4" fill="#55a838"/>
<circle cx="446" cy="432.6" r="1.4" fill="#55a838"/>
<circle cx="451.1" cy="430.3" r="1.4" fill="#55a838"/>
<circle cx="457.2" cy="433.1" r="1.4" fill="#55a838"/>
<circle cx="433" cy="438.6" r="1.4" fill="#55a838"/>
<circle cx="442.5" cy="441.2" r="1.4" fill="#55a838"/>
<circle cx="447.7" cy="441.2" r="1.4" fill="#55a838"/>
<circle cx="432.1" cy="442.1" r="1.4" fill="#55a838"/>
<circle cx="353.5" cy="396.2" r="1.4" fill="#ac0018"/>
<circle cx="389.8" cy="405.4" r="1.4" fill="#ac0018"/>
<circle cx="382.9" cy="416.1" r="1.4" fill="#ac0018"/>
<circle cx="372.5" cy="426.5" r="1.4" fill="#ac0018"/>
<circle cx="462.9" cy="397.1" r="1.4" fill="#ac0018"/>
<circle cx="480.6" cy="399.2" r="1.4" fill="#ac0018"/>
<circle cx="468.1" cy="402.8" r="1.4" fill="#ac0018"/>
<circle cx="471" cy="402.3" r="1.4" fill="#ac0018"/>
<circle cx="438.2" cy="415.8" r="1.4" fill="#ac0018"/>
<circle cx="459.8" cy="413.2" r="1.4" fill="#ac0018"/>
<circle cx="460.1" cy="423.1" r="1.4" fill="#ac0018"/>
<circle cx="494.7" cy="413.3" r="1.4" fill="#ac0018"/>
<line x1="463.3" y1="406.6" x2="468.1" y2="402.8" stroke="#000" stroke-width="0.95" stroke-linecap="butt"/>
<text transform="translate(344.8 403.7) scale(1 1.08)" font-size="5.2" fill="#222" stroke="#222" stroke-width="0.12">IGHG1</text>
<text transform="translate(381.2 413) scale(1 1.08)" font-size="5.2" fill="#222" stroke="#222" stroke-width="0.12">CCL28</text>
<text transform="translate(376 423.4) scale(1 1.08)" font-size="5.2" fill="#222" stroke="#222" stroke-width="0.12">BCL2</text>
<text transform="translate(365.6 433.8) scale(1 1.08)" font-size="5.2" fill="#222" stroke="#222" stroke-width="0.12">IGKC</text>
<text transform="translate(447.3 399.2) scale(1 1.08)" font-size="5.2" fill="#222" stroke="#222" stroke-width="0.12">PLAU</text>
<text transform="translate(484.9 399.2) scale(1 1.08)" font-size="5.2" fill="#222" stroke="#222" stroke-width="0.12">PGLYRP1</text>
<text transform="translate(472.8 407) scale(1 1.08)" font-size="5.2" fill="#222" stroke="#222" stroke-width="0.12">CXCL1</text>
<text transform="translate(452.5 412.3) scale(1 1.08)" font-size="5.2" fill="#222" stroke="#222" stroke-width="0.12">IL1RN</text>
<text transform="translate(433.5 423.4) scale(1 1.08)" font-size="5.2" fill="#222" stroke="#222" stroke-width="0.12">TNF</text>
<text transform="translate(449.8 420.8) scale(1 1.08)" font-size="5.2" fill="#222" stroke="#222" stroke-width="0.12">MMP9</text>
<text transform="translate(449.8 429.6) scale(1 1.08)" font-size="5.2" fill="#222" stroke="#222" stroke-width="0.12">CHI3L1</text>
<text transform="translate(487.3 421) scale(1 1.08)" font-size="5.2" fill="#222" stroke="#222" stroke-width="0.12">CCL2</text>
</g>
</svg></body></html>
